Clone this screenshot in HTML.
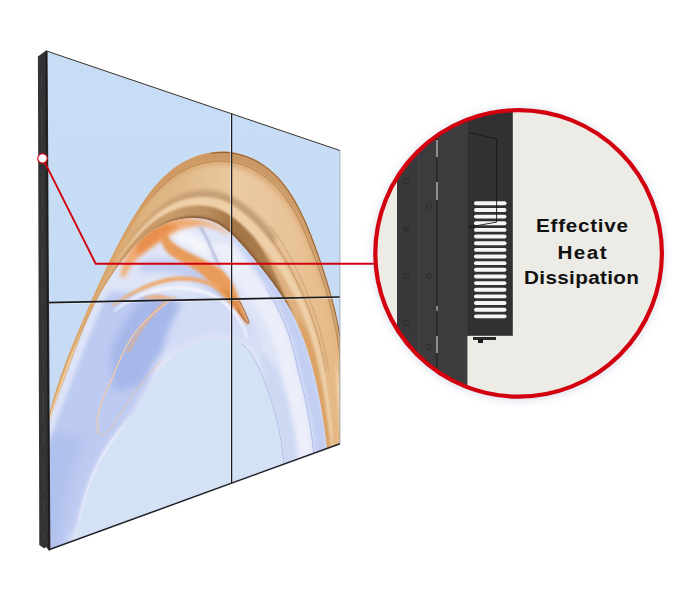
<!DOCTYPE html>
<html lang="en"><head><meta charset="utf-8"><title>Effective Heat Dissipation</title>
<style>html,body{margin:0;padding:0;background:#fff}body{width:700px;height:602px;position:relative;overflow:hidden}</style>
</head><body>
<svg width="700" height="602" viewBox="0 0 700 602" style="position:absolute;left:0;top:0">
<defs>
<clipPath id="scr"><polygon points="47,51.4 339.7,150.7 339.8,443.3 50,549"/></clipPath>
<clipPath id="circ"><circle cx="518.6" cy="253.4" r="143.3"/></clipPath>
<clipPath id="cOuter"><path d="M37.3 560.0 C37.2 556.4 36.8 545.7 36.7 538.5 C36.6 531.3 36.7 524.1 36.8 516.9 C36.9 509.8 37.2 502.6 37.6 495.4 C38.0 488.3 38.5 481.1 39.2 474.0 C39.9 466.9 40.8 459.8 41.8 452.7 C42.8 445.6 44.0 438.6 45.4 431.6 C46.8 424.6 48.4 417.6 50.1 410.7 C51.9 403.8 53.9 396.9 56.1 390.0 C58.2 383.2 60.6 376.4 63.0 369.7 C65.5 362.9 68.1 356.2 70.7 349.5 C73.4 342.8 76.2 336.2 79.0 329.6 C81.8 323.0 84.6 316.4 87.4 309.8 C90.3 303.3 93.1 296.8 96.0 290.3 C98.9 283.8 101.9 277.4 104.9 270.9 C107.9 264.5 111.0 258.1 114.3 251.8 C117.5 245.4 120.8 239.1 124.4 232.8 C127.9 226.5 131.5 220.2 135.4 214.0 C139.2 207.9 143.2 201.6 147.6 195.7 C151.9 189.9 156.5 184.1 161.5 179.1 C166.6 174.0 171.9 169.3 177.8 165.4 C183.7 161.6 190.3 158.3 196.9 156.0 C203.6 153.7 210.8 152.2 217.7 151.7 C224.7 151.3 231.9 151.9 238.6 153.4 C245.4 155.0 252.1 157.8 258.2 161.2 C264.3 164.6 270.0 169.1 275.1 174.0 C280.2 178.8 284.7 184.6 288.9 190.5 C293.0 196.4 296.6 202.9 300.0 209.4 C303.3 215.9 306.2 222.6 309.0 229.3 C311.8 236.0 314.3 242.8 316.7 249.6 C319.2 256.4 321.5 263.2 323.8 270.0 C326.0 276.8 328.1 283.6 330.0 290.4 C332.0 297.3 333.8 304.1 335.4 311.0 C337.0 318.0 338.4 324.9 339.7 331.9 C340.9 338.9 341.8 346.0 342.7 353.1 C343.5 360.2 344.2 367.4 344.7 374.6 C345.3 381.7 345.7 388.9 346.1 396.1 C346.4 403.3 346.7 410.6 347.0 417.8 C347.3 425.0 347.5 432.2 347.8 439.4 C348.1 446.6 348.4 454.1 348.8 460.8 C349.1 467.6 349.8 476.8 350.0 479.9 L380.0 620.0 L20.0 620.0 Z"/></clipPath>
<clipPath id="cGlass"><path d="M30.0 600.0 C30.1 596.8 30.5 587.2 30.7 580.8 C30.9 574.4 31.0 568.0 31.2 561.6 C31.4 555.2 31.6 548.7 31.9 542.3 C32.1 535.8 32.4 529.4 32.8 522.9 C33.1 516.5 33.5 510.1 34.1 503.7 C34.6 497.3 35.2 490.9 36.0 484.5 C36.8 478.1 37.7 471.8 38.8 465.5 C39.8 459.1 41.1 452.9 42.5 446.6 C43.9 440.4 45.6 434.2 47.4 428.1 C49.2 421.9 51.3 415.8 53.4 409.7 C55.5 403.7 57.9 397.6 60.1 391.6 C62.4 385.6 64.7 379.5 66.9 373.5 C69.1 367.5 71.3 361.4 73.5 355.4 C75.8 349.4 78.0 343.4 80.3 337.4 C82.7 331.4 85.0 325.5 87.6 319.7 C90.2 313.8 92.9 308.0 95.8 302.3 C98.8 296.7 101.9 291.0 105.2 285.6 C108.5 280.1 112.0 274.7 115.7 269.4 C119.5 264.2 123.4 259.0 127.7 254.2 C131.9 249.3 136.3 244.4 141.1 240.1 C145.9 235.8 150.9 231.8 156.4 228.5 C161.8 225.3 167.7 222.5 173.8 220.8 C179.9 219.1 186.8 218.1 193.1 218.1 C199.5 218.2 206.1 219.2 211.9 221.3 C217.7 223.4 222.9 226.9 227.8 230.7 C232.7 234.5 236.9 239.4 241.3 244.2 C245.6 248.9 249.8 254.1 253.9 259.1 C258.1 264.1 262.2 269.1 266.1 274.3 C270.1 279.4 273.9 284.6 277.6 289.9 C281.2 295.2 284.7 300.6 287.9 306.1 C291.1 311.6 294.0 317.2 296.7 323.0 C299.4 328.7 301.8 334.6 304.0 340.6 C306.2 346.5 308.1 352.6 309.9 358.8 C311.7 364.9 313.3 371.1 314.8 377.4 C316.3 383.6 317.6 389.9 318.9 396.2 C320.1 402.5 321.3 408.9 322.3 415.2 C323.4 421.6 324.3 427.9 325.1 434.3 C325.9 440.7 326.7 447.1 327.2 453.5 C327.8 459.8 328.2 466.6 328.5 472.7 C328.8 478.8 328.8 487.1 328.9 490.0 L380.0 620.0 L20.0 620.0 Z"/></clipPath>
<filter id="b05" x="-20%" y="-20%" width="140%" height="140%"><feGaussianBlur stdDeviation="0.5"/></filter>
<filter id="b1" x="-20%" y="-20%" width="140%" height="140%"><feGaussianBlur stdDeviation="1"/></filter>
<filter id="b15" x="-20%" y="-20%" width="140%" height="140%"><feGaussianBlur stdDeviation="1.4"/></filter>
<filter id="b2" x="-20%" y="-20%" width="140%" height="140%"><feGaussianBlur stdDeviation="2"/></filter>
<filter id="b3" x="-20%" y="-20%" width="140%" height="140%"><feGaussianBlur stdDeviation="3.5"/></filter>
<filter id="b6" x="-30%" y="-30%" width="160%" height="160%"><feGaussianBlur stdDeviation="6"/></filter>
<filter id="sh" x="-20%" y="-20%" width="140%" height="140%"><feGaussianBlur stdDeviation="5"/></filter>
<linearGradient id="bg" x1="0" y1="0" x2="0" y2="1"><stop offset="0" stop-color="#c6ddf5"/><stop offset="0.6" stop-color="#c7dcf4"/><stop offset="1" stop-color="#bccfef"/></linearGradient>
<linearGradient id="tan" x1="60" y1="0" x2="340" y2="0" gradientUnits="userSpaceOnUse"><stop offset="0" stop-color="#e2a663"/><stop offset="0.3" stop-color="#d9a66e"/><stop offset="0.7" stop-color="#dcae7e"/><stop offset="1" stop-color="#e4b580"/></linearGradient>
<linearGradient id="light" x1="110" y1="0" x2="340" y2="0" gradientUnits="userSpaceOnUse"><stop offset="0" stop-color="#dcae78"/><stop offset="0.3" stop-color="#e0b988"/><stop offset="0.55" stop-color="#ebcaa1"/><stop offset="0.8" stop-color="#e8c398"/><stop offset="1" stop-color="#e5b882"/></linearGradient>
<linearGradient id="rim" x1="60" y1="0" x2="340" y2="0" gradientUnits="userSpaceOnUse"><stop offset="0" stop-color="#d49a5c"/><stop offset="0.5" stop-color="#cf9a64"/><stop offset="0.62" stop-color="#c99662"/><stop offset="1" stop-color="#cfa06e"/></linearGradient>
<linearGradient id="brown" x1="60" y1="0" x2="340" y2="0" gradientUnits="userSpaceOnUse"><stop offset="0" stop-color="#c9955c"/><stop offset="0.4" stop-color="#c89b6a"/><stop offset="0.52" stop-color="#bd9060"/><stop offset="0.62" stop-color="#a37445"/><stop offset="0.8" stop-color="#ad7f50"/><stop offset="1" stop-color="#c58f58"/></linearGradient>
</defs>
<g clip-path="url(#scr)">
<rect x="40" y="40" width="310" height="520" fill="url(#bg)"/>
<path d="M37.3 560.0 C37.2 556.4 36.8 545.7 36.7 538.5 C36.6 531.3 36.7 524.1 36.8 516.9 C36.9 509.8 37.2 502.6 37.6 495.4 C38.0 488.3 38.5 481.1 39.2 474.0 C39.9 466.9 40.8 459.8 41.8 452.7 C42.8 445.6 44.0 438.6 45.4 431.6 C46.8 424.6 48.4 417.6 50.1 410.7 C51.9 403.8 53.9 396.9 56.1 390.0 C58.2 383.2 60.6 376.4 63.0 369.7 C65.5 362.9 68.1 356.2 70.7 349.5 C73.4 342.8 76.2 336.2 79.0 329.6 C81.8 323.0 84.6 316.4 87.4 309.8 C90.3 303.3 93.1 296.8 96.0 290.3 C98.9 283.8 101.9 277.4 104.9 270.9 C107.9 264.5 111.0 258.1 114.3 251.8 C117.5 245.4 120.8 239.1 124.4 232.8 C127.9 226.5 131.5 220.2 135.4 214.0 C139.2 207.9 143.2 201.6 147.6 195.7 C151.9 189.9 156.5 184.1 161.5 179.1 C166.6 174.0 171.9 169.3 177.8 165.4 C183.7 161.6 190.3 158.3 196.9 156.0 C203.6 153.7 210.8 152.2 217.7 151.7 C224.7 151.3 231.9 151.9 238.6 153.4 C245.4 155.0 252.1 157.8 258.2 161.2 C264.3 164.6 270.0 169.1 275.1 174.0 C280.2 178.8 284.7 184.6 288.9 190.5 C293.0 196.4 296.6 202.9 300.0 209.4 C303.3 215.9 306.2 222.6 309.0 229.3 C311.8 236.0 314.3 242.8 316.7 249.6 C319.2 256.4 321.5 263.2 323.8 270.0 C326.0 276.8 328.1 283.6 330.0 290.4 C332.0 297.3 333.8 304.1 335.4 311.0 C337.0 318.0 338.4 324.9 339.7 331.9 C340.9 338.9 341.8 346.0 342.7 353.1 C343.5 360.2 344.2 367.4 344.7 374.6 C345.3 381.7 345.7 388.9 346.1 396.1 C346.4 403.3 346.7 410.6 347.0 417.8 C347.3 425.0 347.5 432.2 347.8 439.4 C348.1 446.6 348.4 454.1 348.8 460.8 C349.1 467.6 349.8 476.8 350.0 479.9 L380.0 620.0 L20.0 620.0 Z" fill="url(#tan)"/>
<g clip-path="url(#cOuter)">
<path d="M57.7 387.9 C58.4 385.8 60.5 379.7 62.0 375.5 C63.5 371.4 65.0 367.1 66.7 362.8 C68.3 358.5 70.0 354.1 71.7 349.6 C73.5 345.1 75.4 340.5 77.3 335.8 C79.3 331.0 81.3 326.2 83.5 321.1 C85.7 316.0 88.0 310.8 90.4 305.3 C92.9 299.8 95.4 294.1 98.2 288.2 C101.0 282.3 104.0 276.1 107.3 269.7 C110.5 263.4 114.0 256.7 117.9 249.9 C121.8 243.0 125.9 235.9 130.5 228.7 C135.2 221.6 140.1 213.9 145.7 207.0 C151.3 200.1 157.4 192.9 163.9 187.3 C170.5 181.6 177.7 176.7 185.1 173.1 C192.4 169.6 200.3 167.2 208.0 166.1 C215.8 165.0 223.8 165.2 231.4 166.7 C239.0 168.2 246.6 171.2 253.6 175.2 C260.6 179.1 267.3 184.4 273.4 190.4 C279.4 196.3 284.8 203.6 289.6 211.0 C294.5 218.4 298.5 226.9 302.2 234.8 C305.9 242.7 309.0 250.8 312.0 258.4 C314.9 265.9 317.5 273.2 319.9 280.2 C322.3 287.2 324.4 293.8 326.3 300.4 C328.2 306.9 329.9 313.1 331.3 319.3 C332.8 325.4 334.0 331.3 335.1 337.0 C336.2 342.8 337.0 348.4 337.8 353.8 C338.5 359.2 339.1 364.4 339.7 369.4 C340.2 374.5 340.6 379.3 341.0 384.0 C341.4 388.8 341.8 393.3 342.1 397.7 C342.4 402.2 342.6 406.4 342.8 410.6 C343.1 414.8 343.3 418.9 343.5 422.9 C343.7 426.9 343.9 430.8 344.1 434.7 C344.3 438.5 344.4 442.3 344.6 446.1 C344.8 449.9 345.0 453.6 345.2 457.3 C345.4 461.0 345.6 464.7 345.9 468.5 C346.1 472.2 346.5 477.8 346.6 479.7 L337.2 479.1 C337.1 477.3 336.9 472.1 336.7 468.6 C336.5 465.1 336.2 461.6 336.0 458.1 C335.8 454.6 335.6 451.1 335.3 447.6 C335.0 444.1 334.8 440.6 334.5 437.0 C334.2 433.4 333.9 429.8 333.5 426.2 C333.2 422.5 332.8 418.8 332.4 415.0 C332.0 411.2 331.6 407.3 331.1 403.3 C330.6 399.3 330.1 395.2 329.6 391.0 C329.0 386.8 328.4 382.5 327.7 378.1 C327.0 373.6 326.2 369.0 325.3 364.3 C324.4 359.6 323.4 354.7 322.3 349.7 C321.1 344.6 319.8 339.5 318.3 334.2 C316.8 328.9 315.2 323.5 313.2 317.9 C311.3 312.3 309.2 306.6 306.9 300.8 C304.5 294.9 301.9 288.9 299.0 282.8 C296.1 276.7 293.0 270.3 289.5 264.0 C286.0 257.6 282.2 251.1 277.9 244.8 C273.7 238.6 269.0 232.3 263.8 226.6 C258.7 220.9 253.1 215.2 247.2 210.4 C241.2 205.7 234.8 200.9 228.2 198.0 C221.5 195.1 214.3 193.4 207.3 193.0 C200.3 192.6 193.1 193.6 186.2 195.6 C179.3 197.5 172.5 200.7 166.1 204.7 C159.8 208.7 153.8 214.0 148.3 219.4 C142.7 224.8 137.7 231.1 132.9 237.1 C128.2 243.1 124.0 249.3 119.9 255.4 C115.9 261.4 112.3 267.4 108.9 273.3 C105.5 279.2 102.4 284.9 99.5 290.6 C96.6 296.2 94.0 301.6 91.5 307.0 C89.1 312.3 86.8 317.5 84.6 322.5 C82.5 327.5 80.5 332.4 78.6 337.1 C76.7 341.9 74.9 346.5 73.2 351.0 C71.5 355.5 69.8 359.8 68.2 364.1 C66.6 368.4 65.1 372.5 63.6 376.6 C62.1 380.8 60.0 386.7 59.3 388.7 Z" fill="url(#light)" filter="url(#b2)"/>
<path d="M41.4 456.1 C41.7 453.8 42.7 446.8 43.5 442.1 C44.3 437.4 45.1 432.8 46.0 428.1 C47.0 423.5 48.0 418.8 49.1 414.1 C50.3 409.4 51.5 404.8 52.8 400.0 C54.2 395.3 55.6 390.6 57.2 385.7 C58.8 380.9 60.4 376.1 62.2 371.2 C64.0 366.2 65.9 361.2 67.9 356.1 C69.9 351.0 72.0 345.8 74.2 340.4 C76.5 334.9 78.8 329.4 81.3 323.6 C83.8 317.7 86.4 311.7 89.2 305.2 C92.0 298.8 94.9 292.0 98.2 284.8 C101.4 277.6 104.8 270.1 108.7 262.0 C112.6 254.0 116.7 245.5 121.5 236.6 C126.3 227.8 131.4 218.2 137.4 208.9 C143.4 199.6 150.0 189.2 157.5 181.0 C164.9 172.8 173.5 165.1 182.3 159.8 C191.1 154.5 200.9 151.0 210.3 149.2 C219.8 147.5 229.8 147.5 239.1 149.5 C248.3 151.5 257.7 155.5 266.0 161.3 C274.2 167.0 281.8 175.3 288.4 184.0 C294.9 192.7 300.3 203.5 305.1 213.5 C309.9 223.5 313.6 234.2 317.1 243.8 C320.7 253.5 323.7 262.7 326.5 271.4 C329.2 280.2 331.6 288.4 333.7 296.4 C335.8 304.4 337.6 312.0 339.1 319.3 C340.6 326.7 341.7 333.8 342.7 340.7 C343.7 347.5 344.4 354.1 345.0 360.5 C345.6 366.8 346.0 372.8 346.4 378.6 C346.8 384.5 347.0 390.0 347.3 395.4 C347.6 400.8 347.7 405.9 347.9 411.0 C348.1 416.0 348.2 420.9 348.4 425.6 C348.6 430.4 348.7 435.0 348.9 439.6 C349.1 444.2 349.2 448.7 349.4 453.2 C349.6 457.7 349.9 462.1 350.1 466.5 C350.4 471.0 350.9 477.8 351.1 480.0 L348.1 479.8 C348.0 477.6 347.5 471.0 347.2 466.6 C346.9 462.2 346.7 457.9 346.5 453.5 C346.3 449.1 346.1 444.7 345.9 440.2 C345.7 435.7 345.5 431.2 345.3 426.6 C345.1 421.9 344.9 417.2 344.6 412.3 C344.4 407.4 344.1 402.4 343.8 397.2 C343.5 391.9 343.2 386.6 342.7 380.9 C342.3 375.3 341.8 369.5 341.1 363.4 C340.4 357.3 339.7 350.9 338.7 344.3 C337.6 337.7 336.5 330.9 334.9 323.8 C333.4 316.7 331.7 309.4 329.6 301.8 C327.5 294.1 325.1 286.3 322.3 277.9 C319.6 269.6 316.6 260.9 313.0 251.8 C309.5 242.7 305.8 232.6 301.1 223.3 C296.4 213.9 291.0 203.9 284.7 195.8 C278.4 187.7 271.0 180.1 263.1 174.5 C255.2 169.0 246.3 164.8 237.5 162.5 C228.6 160.3 219.0 159.9 209.9 161.1 C200.8 162.4 191.4 165.6 182.9 170.2 C174.3 174.8 166.0 181.6 158.6 188.9 C151.2 196.2 144.6 205.6 138.6 214.0 C132.6 222.5 127.4 231.5 122.6 239.8 C117.7 248.2 113.5 256.3 109.6 264.0 C105.6 271.7 102.1 279.0 98.8 286.0 C95.5 293.0 92.6 299.7 89.8 306.0 C86.9 312.4 84.3 318.4 81.9 324.2 C79.4 330.1 77.1 335.6 74.9 341.0 C72.7 346.4 70.6 351.6 68.6 356.8 C66.6 361.9 64.8 366.8 63.0 371.7 C61.2 376.6 59.5 381.4 58.0 386.2 C56.4 391.0 54.9 395.6 53.5 400.3 C52.1 405.0 50.8 409.6 49.6 414.3 C48.4 418.9 47.3 423.5 46.3 428.2 C45.3 432.8 44.3 437.4 43.5 442.1 C42.7 446.8 41.6 453.8 41.2 456.1 Z" fill="url(#rim)" filter="url(#b1)"/>
<path d="M211.1 153.3 C212.6 153.2 217.2 152.6 220.3 152.5 C223.4 152.4 226.5 152.5 229.5 152.8 C232.6 153.2 235.6 153.7 238.6 154.4 C241.6 155.1 244.6 156.1 247.5 157.2 C250.4 158.3 253.3 159.6 256.1 161.1 C258.9 162.6 261.6 164.3 264.3 166.2 C266.9 168.0 269.5 170.1 272.0 172.3 C274.5 174.5 276.9 177.0 279.2 179.5 C281.5 182.1 283.7 184.8 285.9 187.7 C288.0 190.5 290.0 193.5 291.9 196.5 C293.8 199.6 295.6 202.7 297.3 205.9 C299.0 209.1 300.7 212.3 302.2 215.5 C303.8 218.8 305.2 222.0 306.6 225.3 C308.0 228.5 309.3 231.7 310.6 234.9 C311.9 238.1 313.1 241.3 314.2 244.4 C315.4 247.5 316.5 250.6 317.6 253.6 C318.6 256.6 319.7 259.5 320.7 262.4 C321.7 265.3 322.6 268.2 323.5 271.0 C324.5 273.8 325.3 276.5 326.2 279.2 C327.0 282.0 327.9 284.6 328.6 287.3 C329.4 289.9 330.2 292.5 330.9 295.1 C331.6 297.6 332.3 300.2 332.9 302.7 C333.5 305.2 334.2 307.6 334.7 310.1 C335.3 312.5 335.9 314.9 336.4 317.3 C336.9 319.7 337.4 322.0 337.9 324.4 C338.3 326.7 338.7 329.0 339.1 331.3 C339.5 333.5 339.9 335.8 340.3 338.0 C340.6 340.2 340.9 342.4 341.2 344.6 C341.5 346.8 341.8 348.9 342.1 351.0 C342.3 353.1 342.6 355.2 342.8 357.3 C343.0 359.3 343.2 361.4 343.4 363.4 C343.6 365.4 343.8 367.4 344.0 369.3 C344.1 371.3 344.3 373.2 344.4 375.1 C344.6 377.0 344.7 378.8 344.8 380.7 C345.0 382.5 345.1 385.3 345.2 386.2" fill="none" stroke="#8a5c34" stroke-width="1" filter="url(#b05)"/>
<path d="M151.8 196.9 C153.5 195.1 158.2 189.7 161.6 186.4 C165.0 183.2 168.5 180.2 172.2 177.6 C175.9 174.9 179.7 172.5 183.6 170.4 C187.4 168.4 191.4 166.7 195.4 165.3 C199.5 163.9 203.6 162.9 207.7 162.2 C211.8 161.5 215.9 161.1 220.1 161.1 C224.2 161.1 228.3 161.5 232.4 162.2 C236.4 162.9 240.4 164.1 244.3 165.5 C248.3 167.0 252.1 168.8 255.8 170.9 C259.5 173.0 263.2 175.4 266.6 178.1 C270.1 180.9 273.4 183.9 276.5 187.2 C279.7 190.5 282.6 194.1 285.4 197.9 C288.2 201.6 290.8 205.6 293.3 209.7 C295.7 213.8 297.9 218.1 300.0 222.4 C302.1 226.7 304.1 231.0 305.9 235.3 C307.7 239.5 309.4 243.8 311.1 248.0 C312.7 252.1 314.2 256.2 315.6 260.1 C317.1 264.1 318.5 268.0 319.8 271.8 C321.1 275.6 322.3 279.3 323.5 282.9 C324.7 286.6 325.8 290.1 326.8 293.6 C327.9 297.1 328.8 300.6 329.7 303.9 C330.7 307.3 331.5 310.6 332.3 313.9 C333.1 317.2 333.8 320.4 334.5 323.6 C335.2 326.7 335.8 329.8 336.4 332.9 C337.0 336.0 337.5 339.0 338.0 342.0 C338.4 345.0 338.9 347.9 339.3 350.8 C339.7 353.6 340.0 356.4 340.3 359.2 C340.7 362.0 341.0 364.7 341.2 367.4 C341.5 370.1 341.7 372.7 342.0 375.3 C342.2 377.8 342.4 380.4 342.6 382.9 C342.8 385.4 343.0 387.8 343.1 390.2 C343.3 392.6 343.4 395.0 343.6 397.3 C343.7 399.6 343.8 401.9 344.0 404.2 C344.1 406.4 344.2 408.7 344.3 410.9 C344.4 413.1 344.6 416.3 344.6 417.4" fill="none" stroke="#a87848" stroke-width="0.7" filter="url(#b05)"/>
<path d="M59.1 388.7 C59.5 387.6 60.5 384.6 61.3 382.5 C62.0 380.5 62.8 378.4 63.5 376.4 C64.3 374.3 65.1 372.2 65.8 370.0 C66.6 367.9 67.4 365.8 68.2 363.6 C69.0 361.4 69.8 359.2 70.7 357.0 C71.5 354.8 72.4 352.5 73.3 350.3 C74.1 348.0 75.0 345.7 75.9 343.3 C76.9 341.0 77.8 338.6 78.8 336.2 C79.8 333.8 80.8 331.3 81.8 328.8 C82.8 326.4 83.9 323.8 85.0 321.3 C86.1 318.7 87.2 316.1 88.4 313.5 C89.6 310.8 90.8 308.1 92.1 305.4 C93.3 302.7 94.6 299.9 96.0 297.1 C97.4 294.3 98.8 291.5 100.3 288.6 C101.8 285.7 103.3 282.8 104.9 279.9 C106.5 276.9 108.2 273.9 109.9 270.9 C111.7 267.9 113.5 264.8 115.4 261.7 C117.3 258.6 119.2 255.5 121.3 252.4 C123.4 249.3 125.5 246.1 127.7 243.0 C130.0 239.8 132.3 236.7 134.7 233.5 C137.2 230.4 139.7 227.3 142.4 224.3 C145.0 221.3 147.8 218.3 150.7 215.5 C153.5 212.7 156.5 209.9 159.6 207.5 C162.7 205.1 166.0 202.8 169.3 200.8 C172.6 198.8 176.0 197.1 179.4 195.7 C182.9 194.2 186.5 193.1 190.0 192.2 C193.6 191.4 197.2 190.8 200.8 190.5 C204.5 190.3 208.1 190.3 211.7 190.6 C215.3 191.0 218.9 191.7 222.4 192.8 C226.0 193.8 229.5 195.3 232.8 197.1 C236.2 198.8 239.5 200.9 242.7 203.2 C245.9 205.4 248.9 208.0 251.9 210.5 C254.9 213.1 257.8 215.9 260.5 218.7 C263.3 221.6 265.9 224.5 268.5 227.6 C271.0 230.6 274.5 235.4 275.7 237.0 L273.1 244.9 C272.0 243.4 268.6 238.8 266.1 235.9 C263.7 232.9 261.1 230.0 258.5 227.2 C255.8 224.4 253.1 221.7 250.2 219.0 C247.4 216.4 244.4 213.8 241.4 211.4 C238.3 209.0 235.1 206.8 231.9 204.9 C228.6 203.0 225.3 201.3 221.9 200.1 C218.4 198.9 214.9 198.0 211.4 197.5 C207.9 197.0 204.3 196.8 200.8 196.9 C197.3 197.0 193.7 197.5 190.2 198.1 C186.7 198.8 183.2 199.8 179.8 201.0 C176.4 202.2 173.1 203.7 169.8 205.5 C166.5 207.3 163.3 209.3 160.3 211.5 C157.2 213.8 154.2 216.3 151.3 218.8 C148.4 221.4 145.7 224.2 143.0 227.1 C140.4 229.9 137.8 232.9 135.4 235.8 C132.9 238.8 130.6 241.8 128.3 244.8 C126.1 247.8 123.9 250.9 121.8 253.9 C119.8 256.9 117.8 259.9 115.9 262.9 C113.9 265.9 112.1 268.9 110.4 271.8 C108.6 274.8 106.9 277.7 105.3 280.6 C103.7 283.5 102.1 286.4 100.6 289.2 C99.1 292.1 97.7 294.9 96.3 297.6 C94.9 300.4 93.6 303.2 92.4 305.9 C91.1 308.6 89.9 311.2 88.7 313.9 C87.5 316.5 86.4 319.1 85.3 321.6 C84.2 324.2 83.1 326.7 82.1 329.2 C81.1 331.7 80.1 334.1 79.1 336.5 C78.1 338.9 77.2 341.3 76.3 343.7 C75.4 346.0 74.5 348.3 73.6 350.6 C72.7 352.9 71.9 355.1 71.1 357.4 C70.2 359.6 69.4 361.8 68.6 363.9 C67.8 366.1 67.0 368.2 66.2 370.4 C65.5 372.5 64.7 374.6 63.9 376.6 C63.2 378.7 62.4 380.8 61.7 382.8 C61.0 384.8 59.9 387.9 59.5 388.9 Z" fill="#c39d74" filter="url(#b2)"/>
<path d="M267.6 234.3 C268.1 235.0 269.8 237.1 270.9 238.5 C272.0 239.9 273.0 241.4 274.1 242.8 C275.1 244.2 276.1 245.7 277.1 247.1 C278.1 248.6 279.1 250.0 280.0 251.5 C281.0 253.0 281.9 254.4 282.8 255.9 C283.7 257.4 284.6 258.9 285.4 260.3 C286.3 261.8 287.2 263.3 288.0 264.7 C288.8 266.2 289.6 267.7 290.4 269.1 C291.2 270.6 292.0 272.0 292.7 273.5 C293.5 275.0 294.2 276.4 294.9 277.8 C295.6 279.3 296.3 280.7 297.0 282.1 C297.7 283.6 298.4 285.0 299.0 286.4 C299.7 287.8 300.4 289.2 301.0 290.6 C301.6 292.0 302.2 293.3 302.8 294.7 C303.4 296.1 304.0 297.5 304.6 298.8 C305.2 300.2 305.7 301.5 306.3 302.9 C306.8 304.2 307.4 305.6 307.9 306.9 C308.4 308.2 308.9 309.6 309.4 310.9 C309.9 312.2 310.4 313.5 310.9 314.8 C311.3 316.1 311.8 317.4 312.2 318.7 C312.7 320.0 313.1 321.3 313.5 322.6 C314.0 323.8 314.4 325.1 314.8 326.4 C315.2 327.6 315.6 328.9 315.9 330.1 C316.3 331.4 316.7 332.6 317.0 333.9 C317.4 335.1 317.7 336.3 318.1 337.5 C318.4 338.7 318.7 340.0 319.1 341.2 C319.4 342.4 319.7 343.6 320.0 344.7 C320.3 345.9 320.6 347.1 320.9 348.3 C321.1 349.5 321.4 350.6 321.7 351.8 C322.0 352.9 322.2 354.1 322.5 355.2 C322.7 356.4 323.0 357.5 323.2 358.6 C323.4 359.8 323.7 360.9 323.9 362.0 C324.1 363.1 324.3 364.2 324.5 365.3 C324.7 366.4 324.9 367.5 325.1 368.6 C325.3 369.7 325.6 371.3 325.7 371.8" fill="none" stroke="#b98d5e" stroke-width="0.8" filter="url(#b05)"/>
<path d="M270.0 226.0 C270.5 226.8 272.3 228.9 273.4 230.4 C274.5 231.9 275.6 233.3 276.7 234.9 C277.7 236.4 278.8 237.9 279.8 239.4 C280.8 240.9 281.8 242.5 282.8 244.0 C283.7 245.6 284.7 247.1 285.6 248.7 C286.5 250.2 287.4 251.8 288.3 253.3 C289.2 254.9 290.0 256.5 290.9 258.0 C291.7 259.6 292.5 261.1 293.3 262.7 C294.1 264.2 294.9 265.8 295.6 267.3 C296.4 268.9 297.1 270.4 297.8 271.9 C298.6 273.4 299.3 274.9 300.0 276.4 C300.7 277.9 301.3 279.4 302.0 280.9 C302.7 282.4 303.3 283.9 303.9 285.3 C304.6 286.8 305.2 288.3 305.8 289.7 C306.4 291.1 307.0 292.6 307.6 294.0 C308.1 295.4 308.7 296.8 309.2 298.2 C309.8 299.6 310.3 301.0 310.8 302.4 C311.4 303.8 311.9 305.2 312.4 306.6 C312.9 308.0 313.4 309.3 313.8 310.7 C314.3 312.0 314.8 313.4 315.2 314.7 C315.6 316.1 316.1 317.4 316.5 318.7 C316.9 320.0 317.3 321.4 317.7 322.7 C318.1 324.0 318.5 325.3 318.9 326.6 C319.3 327.9 319.6 329.1 320.0 330.4 C320.4 331.7 320.7 333.0 321.0 334.2 C321.4 335.5 321.7 336.7 322.0 338.0 C322.3 339.2 322.6 340.5 322.9 341.7 C323.2 342.9 323.5 344.1 323.8 345.3 C324.1 346.6 324.3 347.8 324.6 349.0 C324.9 350.2 325.1 351.3 325.4 352.5 C325.6 353.7 325.8 354.9 326.1 356.0 C326.3 357.2 326.5 358.4 326.7 359.5 C326.9 360.7 327.1 361.8 327.4 362.9 C327.6 364.1 327.7 365.2 327.9 366.3 C328.1 367.4 328.4 369.1 328.5 369.6" fill="none" stroke="#c49868" stroke-width="0.7" filter="url(#b05)"/>
<path d="M296.5 315.5 C297.1 316.3 298.9 318.7 300.1 320.3 C301.3 321.9 302.4 323.5 303.5 325.1 C304.5 326.8 305.7 328.3 306.6 330.1 C307.5 331.8 308.3 333.7 309.0 335.6 C309.8 337.6 310.4 339.6 311.0 341.6 C311.6 343.5 312.2 345.4 312.7 347.4 C313.3 349.3 313.8 351.2 314.4 353.1 C314.9 354.9 315.4 356.8 315.8 358.6 C316.3 360.5 316.7 362.3 317.2 364.1 C317.6 365.9 318.0 367.7 318.4 369.4 C318.8 371.2 319.1 372.9 319.5 374.7 C319.9 376.4 320.2 378.1 320.5 379.8 C320.9 381.5 321.2 383.1 321.5 384.8 C321.8 386.4 322.1 388.0 322.4 389.7 C322.7 391.3 322.9 392.9 323.2 394.4 C323.5 396.0 323.7 397.6 324.0 399.1 C324.2 400.7 324.5 402.2 324.7 403.7 C325.0 405.2 325.2 406.7 325.4 408.2 C325.6 409.7 325.8 411.2 326.1 412.7 C326.3 414.1 326.5 415.6 326.7 417.0 C326.9 418.5 327.1 419.9 327.2 421.3 C327.4 422.8 327.6 424.2 327.8 425.6 C328.0 427.0 328.1 428.4 328.3 429.8 C328.4 431.2 328.6 432.6 328.8 434.0 C328.9 435.4 329.1 436.7 329.2 438.1 C329.3 439.5 329.5 440.9 329.6 442.2 C329.8 443.6 329.9 444.9 330.0 446.3 C330.1 447.7 330.2 449.0 330.4 450.4 C330.5 451.7 330.6 453.1 330.7 454.4 C330.8 455.8 330.9 457.1 331.0 458.5 C331.1 459.8 331.2 461.2 331.3 462.5 C331.3 463.8 331.4 465.2 331.3 466.6 C331.2 467.9 331.1 469.3 330.9 470.6 C330.8 471.9 330.7 473.3 330.5 474.6 C330.4 476.0 330.2 478.0 330.1 478.6 L330.1 478.6 C330.0 477.9 329.6 475.9 329.4 474.6 C329.1 473.2 328.8 471.9 328.6 470.6 C328.3 469.3 328.0 468.0 327.8 466.6 C327.6 465.3 327.4 464.0 327.3 462.7 C327.2 461.4 327.1 460.1 327.0 458.8 C326.9 457.5 326.8 456.2 326.7 454.9 C326.6 453.6 326.5 452.3 326.3 451.0 C326.2 449.7 326.1 448.4 326.0 447.0 C325.8 445.7 325.7 444.4 325.5 443.1 C325.4 441.8 325.2 440.5 325.1 439.1 C324.9 437.8 324.7 436.5 324.5 435.2 C324.4 433.8 324.2 432.5 324.0 431.2 C323.8 429.8 323.6 428.5 323.4 427.1 C323.2 425.8 323.0 424.4 322.8 423.0 C322.6 421.7 322.4 420.3 322.2 418.9 C321.9 417.5 321.7 416.2 321.5 414.8 C321.2 413.4 321.0 412.0 320.7 410.5 C320.5 409.1 320.2 407.7 319.9 406.3 C319.7 404.8 319.4 403.4 319.1 401.9 C318.8 400.5 318.5 399.0 318.2 397.5 C317.9 396.0 317.6 394.5 317.3 393.0 C317.0 391.5 316.7 389.9 316.3 388.4 C316.0 386.8 315.7 385.3 315.3 383.7 C314.9 382.1 314.6 380.5 314.2 378.9 C313.8 377.3 313.4 375.7 313.0 374.0 C312.6 372.4 312.1 370.7 311.7 369.0 C311.2 367.4 310.8 365.7 310.3 363.9 C309.8 362.2 309.3 360.5 308.8 358.7 C308.3 357.0 307.7 355.2 307.1 353.5 C306.6 351.7 306.0 349.9 305.4 348.1 C304.7 346.2 304.0 344.5 303.4 342.6 C302.8 340.7 302.2 338.7 301.6 336.6 C301.1 334.5 300.7 332.1 300.1 329.8 C299.6 327.5 299.0 325.1 298.4 322.8 C297.8 320.4 296.8 316.7 296.5 315.5 Z" fill="#dca266" filter="url(#b1)"/>
<path d="M334.7 356.9 C334.9 357.6 335.3 359.8 335.6 361.2 C335.9 362.6 336.2 363.9 336.4 365.3 C336.7 366.7 337.0 368.1 337.2 369.4 C337.4 370.8 337.7 372.1 337.9 373.4 C338.1 374.8 338.4 376.1 338.6 377.4 C338.8 378.7 339.0 380.0 339.2 381.3 C339.4 382.6 339.6 383.9 339.8 385.2 C340.0 386.5 340.2 387.7 340.4 389.0 C340.5 390.3 340.6 391.6 340.7 392.9 C340.8 394.1 340.9 395.4 340.9 396.7 C341.0 397.9 341.1 399.2 341.2 400.4 C341.3 401.6 341.4 402.9 341.5 404.1 C341.5 405.3 341.6 406.5 341.7 407.7 C341.8 408.9 341.8 410.1 341.9 411.3 C342.0 412.4 342.1 413.6 342.1 414.8 C342.2 415.9 342.3 417.1 342.3 418.3 C342.4 419.4 342.4 420.5 342.5 421.7 C342.6 422.8 342.6 423.9 342.7 425.1 C342.8 426.2 342.8 427.3 342.9 428.4 C342.9 429.5 343.0 430.6 343.0 431.7 C343.1 432.8 343.2 433.9 343.2 435.0 C343.3 436.1 343.3 437.2 343.4 438.3 C343.4 439.4 343.5 440.4 343.5 441.5 C343.6 442.6 343.7 443.7 343.7 444.7 C343.8 445.8 343.8 446.9 343.9 447.9 C343.9 449.0 344.0 450.1 344.0 451.1 C344.1 452.2 344.2 453.2 344.2 454.3 C344.2 455.3 344.2 456.4 344.2 457.5 C344.2 458.5 344.2 459.6 344.2 460.6 C344.2 461.7 344.2 462.7 344.2 463.8 C344.2 464.8 344.2 465.9 344.2 466.9 C344.2 468.0 344.2 469.0 344.2 470.1 C344.2 471.1 344.2 472.2 344.2 473.2 C344.2 474.3 344.2 475.3 344.2 476.4 C344.3 477.5 344.3 479.0 344.3 479.6 L344.3 479.6 C344.2 479.0 344.0 477.4 343.9 476.4 C343.7 475.3 343.6 474.3 343.5 473.2 C343.4 472.2 343.2 471.1 343.1 470.1 C343.0 469.1 342.9 468.0 342.7 467.0 C342.6 465.9 342.5 464.9 342.4 463.9 C342.2 462.8 342.1 461.8 342.0 460.8 C341.9 459.7 341.8 458.7 341.6 457.7 C341.5 456.7 341.4 455.6 341.3 454.6 C341.2 453.6 341.2 452.5 341.1 451.5 C341.0 450.5 341.0 449.4 340.9 448.4 C340.9 447.3 340.8 446.3 340.7 445.3 C340.7 444.2 340.6 443.2 340.5 442.1 C340.5 441.1 340.4 440.0 340.3 439.0 C340.3 437.9 340.2 436.8 340.2 435.8 C340.1 434.7 340.0 433.6 340.0 432.6 C339.9 431.5 339.8 430.4 339.7 429.3 C339.7 428.2 339.6 427.2 339.5 426.1 C339.5 425.0 339.4 423.9 339.3 422.8 C339.2 421.7 339.2 420.5 339.1 419.4 C339.0 418.3 338.9 417.2 338.8 416.1 C338.8 414.9 338.7 413.8 338.6 412.6 C338.5 411.5 338.4 410.3 338.3 409.2 C338.2 408.0 338.1 406.8 338.0 405.7 C338.0 404.5 337.9 403.3 337.8 402.1 C337.7 400.9 337.5 399.7 337.4 398.5 C337.3 397.3 337.2 396.0 337.1 394.8 C337.0 393.6 336.8 392.4 336.8 391.1 C336.7 389.8 336.7 388.5 336.6 387.1 C336.6 385.8 336.5 384.5 336.4 383.1 C336.4 381.7 336.3 380.4 336.2 379.0 C336.2 377.6 336.1 376.2 336.0 374.8 C335.9 373.4 335.9 371.9 335.8 370.5 C335.7 369.0 335.6 367.5 335.5 366.1 C335.4 364.6 335.2 363.1 335.1 361.6 C335.0 360.0 334.8 357.7 334.7 356.9 Z" fill="#f1d3ab" filter="url(#b1)"/>
<path d="M42.3 447.8 C42.4 447.3 42.8 445.6 43.0 444.4 C43.3 443.3 43.5 442.1 43.8 441.0 C44.0 439.9 44.3 438.7 44.5 437.6 C44.8 436.5 45.1 435.3 45.3 434.2 C45.6 433.1 45.9 431.9 46.1 430.8 C46.4 429.7 46.7 428.6 47.0 427.4 C47.2 426.3 47.5 425.2 47.8 424.1 C48.1 422.9 48.4 421.8 48.7 420.7 C49.0 419.5 49.3 418.4 49.6 417.3 C49.9 416.1 50.2 415.0 50.5 413.9 C50.8 412.8 51.2 411.6 51.5 410.5 C51.8 409.4 52.2 408.3 52.5 407.1 C52.9 406.0 53.2 404.9 53.6 403.8 C53.9 402.6 54.3 401.5 54.7 400.4 C55.0 399.2 55.4 398.1 55.8 397.0 C56.1 395.8 56.5 394.7 56.9 393.6 C57.3 392.4 57.7 391.3 58.1 390.1 C58.5 389.0 58.9 387.8 59.3 386.7 C59.7 385.5 60.1 384.4 60.5 383.2 C60.9 382.1 61.3 380.9 61.7 379.7 C62.2 378.6 62.6 377.4 63.0 376.2 C63.4 375.0 63.9 373.8 64.3 372.6 C64.7 371.5 65.2 370.3 65.6 369.0 C66.1 367.8 66.5 366.6 67.0 365.4 C67.4 364.2 67.9 363.0 68.3 361.7 C68.8 360.5 69.3 359.3 69.8 358.1 C70.3 356.8 70.8 355.6 71.3 354.4 C71.8 353.1 72.4 351.9 72.9 350.6 C73.4 349.4 74.0 348.1 74.5 346.8 C75.0 345.6 75.6 344.3 76.1 343.0 C76.7 341.7 77.2 340.4 77.8 339.1 C78.4 337.8 78.9 336.4 79.5 335.1 C80.1 333.8 80.7 332.4 81.3 331.1 C81.9 329.7 82.5 328.3 83.1 326.9 C83.7 325.6 84.6 323.5 85.0 322.8 L85.0 322.8 C84.7 323.5 83.8 325.7 83.2 327.1 C82.7 328.6 82.1 330.0 81.6 331.4 C81.0 332.8 80.5 334.2 80.0 335.6 C79.5 337.0 79.0 338.4 78.5 339.8 C78.0 341.2 77.5 342.5 77.0 343.9 C76.5 345.3 76.1 346.6 75.6 347.9 C75.1 349.3 74.7 350.6 74.2 351.9 C73.8 353.2 73.3 354.5 72.9 355.8 C72.5 357.1 72.1 358.4 71.6 359.6 C71.2 360.9 70.8 362.2 70.3 363.4 C69.9 364.6 69.4 365.8 69.0 367.0 C68.6 368.2 68.1 369.4 67.7 370.6 C67.3 371.8 66.8 373.0 66.4 374.1 C66.0 375.3 65.5 376.5 65.1 377.6 C64.7 378.8 64.2 379.9 63.8 381.1 C63.4 382.2 63.0 383.4 62.5 384.5 C62.1 385.6 61.7 386.7 61.3 387.9 C60.9 389.0 60.4 390.1 60.0 391.2 C59.6 392.3 59.2 393.4 58.8 394.5 C58.4 395.7 58.0 396.8 57.5 397.9 C57.1 399.0 56.7 400.1 56.3 401.2 C55.9 402.3 55.5 403.4 55.1 404.5 C54.7 405.6 54.4 406.7 54.0 407.8 C53.6 408.9 53.2 409.9 52.8 411.0 C52.4 412.1 52.1 413.2 51.7 414.3 C51.3 415.4 50.9 416.5 50.6 417.6 C50.2 418.7 49.8 419.8 49.4 420.9 C49.1 422.0 48.7 423.1 48.4 424.2 C48.0 425.3 47.7 426.4 47.4 427.5 C47.0 428.7 46.7 429.8 46.4 430.9 C46.1 432.0 45.8 433.1 45.5 434.2 C45.2 435.4 44.9 436.5 44.6 437.6 C44.3 438.7 44.1 439.9 43.8 441.0 C43.5 442.1 43.3 443.3 43.0 444.4 C42.8 445.6 42.4 447.3 42.3 447.8 Z" fill="#f6dcbc" filter="url(#b05)"/>
<path d="M50.7 415.7 C51.4 413.6 53.3 407.4 54.7 403.2 C56.1 399.1 57.6 394.9 59.1 390.7 C60.5 386.5 62.1 382.3 63.6 377.9 C65.2 373.5 66.8 369.1 68.5 364.6 C70.1 360.0 71.8 355.3 73.7 350.5 C75.5 345.7 77.4 340.8 79.4 335.7 C81.5 330.6 83.6 325.4 86.0 320.0 C88.3 314.6 90.8 309.0 93.6 303.3 C96.3 297.6 99.2 291.7 102.5 285.7 C105.8 279.7 109.2 273.5 113.1 267.3 C117.0 261.1 121.1 254.6 125.7 248.4 C130.3 242.1 135.3 235.5 140.7 229.5 C146.2 223.6 152.2 217.5 158.5 212.8 C164.9 208.1 171.9 204.0 178.9 201.3 C186.0 198.7 193.6 197.1 200.9 196.9 C208.3 196.8 215.9 197.9 223.0 200.5 C230.0 203.2 237.0 208.0 243.3 212.9 C249.6 217.8 255.5 223.9 260.9 229.9 C266.3 235.8 271.3 242.3 275.8 248.7 C280.3 255.2 284.4 261.9 288.1 268.4 C291.8 274.9 295.0 281.4 298.0 287.7 C301.1 294.0 303.7 300.2 306.2 306.2 C308.6 312.2 310.8 318.1 312.7 323.9 C314.6 329.6 316.3 335.2 317.8 340.6 C319.3 346.1 320.5 351.4 321.7 356.5 C322.8 361.6 323.8 366.6 324.7 371.4 C325.6 376.3 326.3 380.9 327.0 385.5 C327.7 390.0 328.3 394.4 328.9 398.6 C329.5 402.9 330.0 407.1 330.5 411.1 C330.9 415.2 331.3 419.2 331.7 423.1 C332.0 427.0 332.3 430.9 332.5 434.7 C332.8 438.5 333.0 442.2 333.2 445.9 C333.4 449.6 333.6 453.3 333.8 457.0 C333.9 460.6 334.1 464.3 334.2 467.9 C334.3 471.6 334.4 477.1 334.5 478.9 L334.5 478.9 C334.3 477.1 333.9 471.6 333.6 467.9 C333.3 464.3 333.0 460.7 332.7 457.1 C332.3 453.5 331.9 449.9 331.5 446.2 C331.1 442.6 330.7 439.0 330.2 435.3 C329.7 431.6 329.2 427.9 328.7 424.2 C328.1 420.4 327.6 416.6 327.1 412.7 C326.5 408.7 326.0 404.7 325.3 400.6 C324.7 396.5 324.0 392.3 323.3 387.9 C322.5 383.6 321.7 379.1 320.8 374.5 C319.8 369.9 318.8 365.2 317.6 360.3 C316.5 355.4 315.2 350.3 313.7 345.2 C312.1 340.0 310.5 334.7 308.5 329.2 C306.6 323.8 304.5 318.2 302.0 312.6 C299.6 307.0 296.9 301.2 293.9 295.4 C290.9 289.6 287.6 283.6 284.0 277.7 C280.4 271.7 276.5 265.6 272.1 259.6 C267.8 253.6 263.0 247.6 257.9 241.7 C252.8 235.9 247.3 229.7 241.3 224.5 C235.4 219.4 228.8 214.0 222.1 210.9 C215.4 207.8 208.0 206.2 200.9 205.9 C193.8 205.5 186.4 206.7 179.5 208.7 C172.6 210.8 165.7 214.2 159.4 218.3 C153.1 222.4 147.1 227.8 141.7 233.2 C136.2 238.6 131.2 244.8 126.5 250.7 C121.9 256.7 117.7 262.8 113.8 268.8 C109.8 274.8 106.3 280.8 103.0 286.7 C99.7 292.5 96.7 298.3 94.0 304.0 C91.2 309.6 88.7 315.1 86.4 320.5 C84.0 325.9 81.9 331.1 79.9 336.2 C77.8 341.3 76.0 346.2 74.1 351.0 C72.3 355.8 70.6 360.4 68.9 364.9 C67.2 369.4 65.6 373.8 64.0 378.1 C62.4 382.4 60.8 386.6 59.3 390.8 C57.7 395.0 56.2 399.1 54.8 403.3 C53.4 407.4 51.4 413.6 50.7 415.7 Z" fill="#edcfa8" filter="url(#b1)"/>
<path d="M50.8 415.7 C51.3 414.4 52.5 410.5 53.4 407.9 C54.3 405.4 55.2 402.8 56.1 400.2 C57.0 397.6 58.0 395.0 58.9 392.3 C59.9 389.7 60.8 387.1 61.8 384.4 C62.8 381.7 63.8 379.1 64.8 376.3 C65.8 373.6 66.8 370.8 67.8 368.0 C68.9 365.2 69.9 362.4 71.0 359.4 C72.1 356.5 73.2 353.6 74.3 350.6 C75.5 347.5 76.6 344.5 77.8 341.3 C79.1 338.2 80.3 335.0 81.6 331.8 C83.0 328.5 84.3 325.2 85.8 321.8 C87.2 318.5 88.8 315.1 90.4 311.6 C92.0 308.1 93.6 304.6 95.4 301.0 C97.2 297.4 99.1 293.8 101.1 290.1 C103.1 286.4 105.2 282.7 107.4 279.0 C109.7 275.2 112.0 271.5 114.5 267.7 C117.0 263.9 119.6 260.1 122.3 256.3 C125.1 252.5 128.0 248.7 131.1 245.0 C134.2 241.3 137.4 237.6 140.8 234.1 C144.2 230.6 147.8 227.2 151.6 224.1 C155.3 221.1 159.3 218.2 163.4 215.8 C167.5 213.4 171.7 211.4 176.1 209.9 C180.4 208.3 184.9 207.2 189.4 206.5 C193.8 205.9 198.4 205.6 202.9 206.0 C207.4 206.3 211.9 207.1 216.3 208.5 C220.7 210.0 225.0 212.3 229.1 214.9 C233.2 217.5 237.2 220.8 240.9 224.2 C244.7 227.5 248.3 231.0 251.7 234.9 C255.0 238.8 258.2 242.9 261.1 247.4 C263.9 251.8 266.4 257.0 268.9 261.6 C271.3 266.3 273.5 270.9 275.6 275.4 C277.7 279.9 279.6 284.3 281.5 288.5 C283.3 292.8 285.0 296.9 286.6 301.0 C288.1 305.0 289.6 308.9 291.0 312.8 C292.3 316.7 294.1 322.3 294.7 324.2 L294.7 324.2 C293.9 322.6 291.6 317.9 289.8 314.8 C288.1 311.6 286.2 308.5 284.3 305.4 C282.3 302.3 280.3 299.2 278.1 296.0 C275.9 292.9 273.6 289.8 271.3 286.6 C268.9 283.4 266.4 280.2 263.8 276.9 C261.2 273.6 258.5 270.3 255.7 266.8 C252.9 263.4 250.0 259.9 247.0 256.2 C244.0 252.5 240.8 248.5 237.5 244.9 C234.2 241.2 230.6 237.3 226.9 234.2 C223.2 231.1 219.2 228.3 215.2 226.3 C211.2 224.3 206.9 223.1 202.7 222.2 C198.5 221.3 194.2 221.1 189.9 221.1 C185.7 221.2 181.4 221.6 177.2 222.5 C173.1 223.4 168.9 224.6 164.9 226.3 C160.9 228.0 157.0 230.1 153.2 232.4 C149.5 234.8 145.9 237.6 142.4 240.5 C139.0 243.4 135.7 246.7 132.6 249.9 C129.5 253.2 126.5 256.6 123.7 260.0 C120.9 263.5 118.2 267.0 115.7 270.5 C113.1 274.0 110.7 277.5 108.4 281.0 C106.1 284.6 104.0 288.1 102.0 291.7 C99.9 295.2 98.0 298.7 96.2 302.2 C94.4 305.7 92.7 309.2 91.1 312.6 C89.4 316.0 87.9 319.4 86.5 322.8 C85.1 326.1 83.7 329.4 82.4 332.7 C81.1 335.9 79.9 339.1 78.7 342.2 C77.5 345.3 76.3 348.4 75.2 351.4 C74.1 354.4 73.0 357.4 72.0 360.3 C70.9 363.2 69.9 366.0 68.9 368.8 C67.9 371.6 66.8 374.3 65.8 377.1 C64.8 379.8 63.8 382.4 62.8 385.0 C61.8 387.7 60.8 390.3 59.9 392.9 C58.9 395.5 57.9 398.0 57.0 400.6 C56.0 403.1 55.0 405.7 54.1 408.3 C53.2 410.8 51.9 414.6 51.4 415.9 Z" fill="url(#brown)" filter="url(#b1)"/>
<path d="M142.4 238.9 C143.2 238.2 145.5 236.1 147.1 234.8 C148.7 233.5 150.3 232.2 151.9 231.0 C153.6 229.8 155.3 228.6 157.0 227.5 C158.7 226.5 160.5 225.4 162.2 224.5 C164.0 223.5 165.8 222.6 167.6 221.8 C169.5 221.0 171.3 220.3 173.2 219.6 C175.0 218.9 176.9 218.3 178.8 217.9 C180.7 217.4 182.6 217.0 184.6 216.7 C186.5 216.4 188.4 216.2 190.4 216.1 C192.3 216.0 194.3 216.0 196.2 216.1 C198.1 216.2 200.1 216.3 202.0 216.6 C204.0 216.9 205.9 217.2 207.8 217.7 C209.7 218.2 211.6 218.7 213.5 219.4 C215.4 220.2 217.3 221.0 219.1 222.0 C220.9 223.0 222.7 224.1 224.5 225.3 C226.3 226.5 228.0 227.8 229.7 229.3 C231.4 230.7 233.0 232.2 234.6 233.8 C236.3 235.3 237.8 236.9 239.4 238.6 C240.9 240.2 242.4 241.9 243.9 243.6 C245.4 245.2 246.8 246.9 248.2 248.5 C249.6 250.2 251.0 251.8 252.4 253.4 C253.8 255.0 255.1 256.6 256.4 258.2 C257.7 259.8 259.0 261.3 260.3 262.9 C261.5 264.5 262.8 266.0 264.0 267.6 C265.2 269.1 266.4 270.7 267.6 272.2 C268.7 273.7 269.9 275.3 271.0 276.8 C272.1 278.3 273.2 279.8 274.3 281.3 C275.3 282.9 276.3 284.4 277.3 286.0 C278.3 287.6 279.3 289.2 280.2 290.8 C281.2 292.4 282.1 293.9 283.0 295.5 C283.9 297.1 284.7 298.6 285.6 300.2 C286.4 301.7 287.3 303.3 288.1 304.8 C288.9 306.3 289.6 307.9 290.4 309.4 C291.2 310.9 291.9 312.4 292.6 313.9 C293.3 315.5 294.3 317.7 294.7 318.5 L294.7 318.5 C294.3 317.8 293.1 315.7 292.4 314.4 C291.6 313.0 290.7 311.6 289.9 310.3 C289.1 308.9 288.2 307.6 287.3 306.2 C286.4 304.8 285.5 303.5 284.6 302.1 C283.6 300.8 282.7 299.5 281.7 298.1 C280.7 296.8 279.8 295.4 278.7 294.1 C277.7 292.8 276.7 291.4 275.6 290.1 C274.6 288.7 273.5 287.4 272.4 286.0 C271.4 284.6 270.3 283.1 269.2 281.6 C268.1 280.2 267.0 278.7 265.8 277.2 C264.7 275.8 263.5 274.3 262.3 272.8 C261.2 271.3 259.9 269.8 258.7 268.3 C257.5 266.8 256.2 265.2 255.0 263.7 C253.7 262.1 252.4 260.5 251.1 258.9 C249.7 257.3 248.4 255.7 247.0 254.1 C245.7 252.4 244.3 250.7 242.8 249.1 C241.4 247.4 240.0 245.7 238.5 244.0 C237.0 242.3 235.4 240.6 233.9 239.0 C232.3 237.4 230.7 235.8 229.1 234.4 C227.4 232.9 225.7 231.5 224.0 230.2 C222.3 228.9 220.5 227.8 218.7 226.7 C216.9 225.7 215.1 224.8 213.3 224.0 C211.4 223.2 209.5 222.6 207.7 222.1 C205.8 221.5 203.9 221.1 202.0 220.8 C200.1 220.5 198.2 220.2 196.3 220.1 C194.3 220.0 192.4 219.9 190.5 219.9 C188.6 220.0 186.7 220.1 184.8 220.3 C182.9 220.5 181.0 220.7 179.1 221.0 C177.2 221.3 175.3 221.6 173.4 222.1 C171.6 222.5 169.7 223.1 167.9 223.7 C166.1 224.3 164.2 225.0 162.5 225.8 C160.7 226.6 158.9 227.5 157.2 228.5 C155.4 229.4 153.7 230.5 152.0 231.6 C150.4 232.7 148.7 233.8 147.1 235.1 C145.5 236.3 143.2 238.2 142.4 238.9 Z" fill="#8a5f38" filter="url(#b1)"/>
</g>
<path d="M30.0 600.0 C30.1 596.8 30.5 587.2 30.7 580.8 C30.9 574.4 31.0 568.0 31.2 561.6 C31.4 555.2 31.6 548.7 31.9 542.3 C32.1 535.8 32.4 529.4 32.8 522.9 C33.1 516.5 33.5 510.1 34.1 503.7 C34.6 497.3 35.2 490.9 36.0 484.5 C36.8 478.1 37.7 471.8 38.8 465.5 C39.8 459.1 41.1 452.9 42.5 446.6 C43.9 440.4 45.6 434.2 47.4 428.1 C49.2 421.9 51.3 415.8 53.4 409.7 C55.5 403.7 57.9 397.6 60.1 391.6 C62.4 385.6 64.7 379.5 66.9 373.5 C69.1 367.5 71.3 361.4 73.5 355.4 C75.8 349.4 78.0 343.4 80.3 337.4 C82.7 331.4 85.0 325.5 87.6 319.7 C90.2 313.8 92.9 308.0 95.8 302.3 C98.8 296.7 101.9 291.0 105.2 285.6 C108.5 280.1 112.0 274.7 115.7 269.4 C119.5 264.2 123.4 259.0 127.7 254.2 C131.9 249.3 136.3 244.4 141.1 240.1 C145.9 235.8 150.9 231.8 156.4 228.5 C161.8 225.3 167.7 222.5 173.8 220.8 C179.9 219.1 186.8 218.1 193.1 218.1 C199.5 218.2 206.1 219.2 211.9 221.3 C217.7 223.4 222.9 226.9 227.8 230.7 C232.7 234.5 236.9 239.4 241.3 244.2 C245.6 248.9 249.8 254.1 253.9 259.1 C258.1 264.1 262.2 269.1 266.1 274.3 C270.1 279.4 273.9 284.6 277.6 289.9 C281.2 295.2 284.7 300.6 287.9 306.1 C291.1 311.6 294.0 317.2 296.7 323.0 C299.4 328.7 301.8 334.6 304.0 340.6 C306.2 346.5 308.1 352.6 309.9 358.8 C311.7 364.9 313.3 371.1 314.8 377.4 C316.3 383.6 317.6 389.9 318.9 396.2 C320.1 402.5 321.3 408.9 322.3 415.2 C323.4 421.6 324.3 427.9 325.1 434.3 C325.9 440.7 326.7 447.1 327.2 453.5 C327.8 459.8 328.2 466.6 328.5 472.7 C328.8 478.8 328.8 487.1 328.9 490.0 L380.0 620.0 L20.0 620.0 Z" fill="#dfe5f7"/>
<g clip-path="url(#cGlass)">
<path d="M51.7 583.4 C51.1 581.6 49.3 576.4 48.1 573.1 C46.8 569.7 45.5 566.5 44.2 563.3 C42.9 560.1 41.5 557.0 40.1 553.9 C38.7 550.8 36.6 547.9 35.7 544.6 C34.8 541.4 34.7 537.7 34.6 534.1 C34.5 530.6 35.0 526.9 35.2 523.4 C35.4 519.9 35.7 516.5 35.9 513.1 C36.2 509.7 36.5 506.4 36.8 503.1 C37.1 499.9 37.4 496.7 37.7 493.5 C38.1 490.3 38.5 487.2 38.9 484.1 C39.3 481.0 39.7 477.9 40.2 474.9 C40.7 471.9 41.1 468.9 41.7 465.9 C42.2 462.9 42.8 460.0 43.4 457.1 C44.0 454.1 44.6 451.2 45.3 448.4 C46.0 445.5 46.7 442.6 47.4 439.8 C48.2 436.9 49.0 434.1 49.8 431.3 C50.7 428.5 51.6 425.7 52.5 423.0 C53.4 420.2 54.4 417.4 55.3 414.7 C56.3 411.9 57.3 409.2 58.3 406.4 C59.4 403.7 60.4 400.9 61.5 398.2 C62.5 395.4 63.6 392.6 64.7 389.8 C65.8 387.0 66.9 384.2 68.0 381.3 C69.0 378.4 70.1 375.5 71.3 372.6 C72.4 369.6 73.5 366.5 74.6 363.5 C75.8 360.4 77.0 357.2 78.2 354.0 C79.4 350.8 80.6 347.5 81.9 344.1 C83.3 340.7 84.6 337.3 86.0 333.8 C87.5 330.3 89.0 326.7 90.6 323.1 C92.2 319.5 93.9 315.8 95.7 312.1 C97.6 308.4 99.2 304.1 101.5 300.8 C103.9 297.6 106.4 294.1 109.8 292.6 C113.2 291.2 117.8 292.1 121.8 292.1 C125.9 292.2 129.9 292.5 133.9 293.0 C137.9 293.6 141.9 294.3 145.8 295.4 C149.8 296.5 155.6 298.9 157.5 299.6 L157.5 299.6 C156.8 302.9 154.4 313.1 153.3 319.6 C152.2 326.1 151.5 332.5 151.0 338.7 C150.5 344.9 150.3 351.0 150.2 356.8 C150.2 362.5 151.1 369.2 150.9 373.4 C150.7 377.7 149.8 379.9 148.9 382.3 C148.1 384.6 146.7 385.9 145.7 387.7 C144.6 389.5 143.6 391.2 142.6 392.9 C141.6 394.7 140.7 396.3 139.8 398.0 C138.8 399.6 137.9 401.3 137.0 402.9 C136.1 404.4 135.3 406.0 134.4 407.5 C133.5 409.0 132.7 410.5 131.8 412.0 C130.9 413.5 130.0 414.9 129.1 416.3 C128.2 417.8 127.3 419.2 126.3 420.5 C125.4 421.9 124.4 423.3 123.5 424.7 C122.5 426.0 121.5 427.4 120.5 428.8 C119.4 430.1 118.4 431.5 117.4 432.9 C116.3 434.3 115.3 435.8 114.2 437.2 C113.2 438.7 112.1 440.1 111.1 441.7 C110.0 443.2 109.0 444.7 108.0 446.3 C107.0 447.9 106.0 449.5 105.0 451.2 C104.0 452.8 103.0 454.5 102.0 456.3 C101.1 458.0 100.1 459.8 99.2 461.7 C98.2 463.5 97.3 465.4 96.4 467.3 C95.5 469.2 94.6 471.2 93.7 473.3 C92.8 475.3 91.9 477.4 91.1 479.5 C90.2 481.7 89.4 483.9 88.6 486.1 C87.7 488.4 86.9 490.7 86.2 493.1 C85.4 495.5 84.6 498.0 83.8 500.5 C83.1 503.0 82.4 505.6 81.7 508.3 C80.9 511.0 80.5 513.7 79.6 516.7 C78.6 519.7 77.7 522.7 76.0 526.3 C74.3 530.0 71.5 534.2 69.4 538.5 C67.2 542.8 65.2 547.2 63.2 551.9 C61.1 556.7 59.2 561.6 57.3 566.8 C55.4 572.0 52.6 580.6 51.7 583.4 Z" fill="#bdcaf1" filter="url(#b3)"/>
<path d="M30.0 600.0 C30.0 598.8 30.2 595.2 30.3 592.9 C30.3 590.5 30.4 588.3 30.5 586.1 C30.6 583.8 30.6 581.7 30.7 579.5 C30.8 577.4 30.8 575.3 30.9 573.2 C31.0 571.2 31.0 569.2 31.1 567.2 C31.1 565.2 31.2 563.2 31.2 561.3 C31.3 559.4 31.4 557.5 31.4 555.6 C31.5 553.7 31.5 551.9 31.6 550.0 C31.7 548.2 31.7 546.4 31.8 544.6 C31.9 542.8 31.9 541.1 32.0 539.3 C32.1 537.6 32.1 535.9 32.2 534.2 C32.3 532.5 32.4 530.8 32.4 529.1 C32.5 527.4 32.6 525.8 32.7 524.1 C32.8 522.5 32.9 520.9 33.0 519.3 C33.1 517.7 33.2 516.1 33.3 514.5 C33.4 512.9 33.5 511.3 33.6 509.8 C33.7 508.2 33.8 506.7 34.0 505.1 C34.1 503.6 34.2 502.1 34.4 500.5 C34.5 499.0 34.6 497.5 34.8 496.0 C34.9 494.5 35.1 493.0 35.2 491.6 C35.4 490.1 35.5 488.6 35.7 487.1 C35.9 485.7 36.1 484.2 36.2 482.8 C36.4 481.3 36.6 479.9 36.8 478.4 C37.0 477.0 37.2 475.6 37.4 474.2 C37.6 472.7 37.8 471.3 38.0 469.9 C38.3 468.5 38.5 467.1 38.7 465.7 C39.0 464.3 39.2 462.9 39.5 461.5 C39.7 460.1 40.0 458.7 40.2 457.4 C40.5 456.0 40.8 454.6 41.1 453.2 C41.3 451.9 41.6 450.5 41.9 449.1 C42.2 447.8 42.5 446.4 42.9 445.1 C43.2 443.7 43.5 442.4 43.8 441.0 C44.2 439.7 44.5 438.3 44.9 437.0 C45.2 435.7 45.6 434.3 46.0 433.0 C46.3 431.7 46.9 429.7 47.1 429.0 L85.1 439.2 C84.9 439.7 84.2 441.1 83.8 442.1 C83.4 443.1 82.9 444.0 82.5 445.0 C82.1 446.0 81.7 447.0 81.3 448.0 C80.8 449.0 80.4 450.0 80.0 451.0 C79.6 452.0 79.2 453.0 78.9 454.0 C78.5 455.0 78.1 456.1 77.7 457.1 C77.3 458.1 76.9 459.2 76.6 460.2 C76.2 461.3 75.8 462.4 75.5 463.4 C75.1 464.5 74.8 465.6 74.4 466.7 C74.1 467.7 73.7 468.8 73.4 469.9 C73.0 471.0 72.7 472.1 72.4 473.3 C72.0 474.4 71.7 475.5 71.4 476.7 C71.1 477.8 70.7 478.9 70.4 480.1 C70.1 481.3 69.8 482.4 69.5 483.6 C69.2 484.8 68.9 486.0 68.6 487.2 C68.3 488.4 68.0 489.6 67.7 490.8 C67.4 492.1 67.1 493.3 66.9 494.6 C66.6 495.8 66.3 497.1 66.0 498.3 C65.8 499.6 65.5 500.9 65.2 502.2 C65.0 503.5 64.7 504.8 64.5 506.2 C64.2 507.5 64.0 508.8 63.7 510.2 C63.5 511.6 63.2 512.9 63.0 514.3 C62.8 515.7 62.5 517.1 62.3 518.6 C62.1 520.0 61.8 521.4 61.6 522.9 C61.4 524.4 61.2 525.9 61.0 527.4 C60.8 528.9 60.5 530.4 60.3 531.9 C60.1 533.5 59.9 535.1 59.7 536.7 C59.5 538.2 59.3 539.9 59.1 541.5 C59.0 543.1 58.8 544.8 58.6 546.5 C58.4 548.2 58.2 549.9 58.0 551.7 C57.9 553.4 57.7 555.2 57.5 557.0 C57.3 558.8 57.2 560.6 57.0 562.5 C56.8 564.4 56.7 566.3 56.5 568.2 C56.3 570.2 56.2 572.2 56.0 574.2 C55.9 576.2 55.6 579.4 55.5 580.4 Z" fill="#b1c1ed" filter="url(#b6)"/>
<path d="M40.7 470.0 C40.8 469.1 41.1 466.4 41.3 464.6 C41.5 462.8 41.7 461.0 41.9 459.3 C42.1 457.5 42.4 455.7 42.6 453.9 C42.9 452.2 43.1 450.4 43.4 448.6 C43.7 446.9 44.0 445.1 44.3 443.3 C44.6 441.6 44.9 439.8 45.2 438.1 C45.6 436.3 45.9 434.6 46.3 432.8 C46.7 431.1 47.1 429.3 47.5 427.6 C48.0 425.9 48.6 424.2 49.1 422.5 C49.7 420.8 50.2 419.1 50.8 417.4 C51.4 415.7 51.9 414.0 52.5 412.3 C53.1 410.6 53.7 408.9 54.3 407.2 C54.9 405.5 55.6 403.8 56.2 402.1 C56.8 400.5 57.4 398.8 58.1 397.1 C58.7 395.4 59.3 393.6 60.0 391.9 C60.6 390.2 61.3 388.5 61.9 386.8 C62.6 385.0 63.2 383.3 63.9 381.5 C64.6 379.8 65.2 378.0 65.9 376.2 C66.6 374.4 67.2 372.6 67.9 370.8 C68.6 368.9 69.2 367.1 69.9 365.2 C70.6 363.3 71.3 361.4 72.0 359.5 C72.7 357.6 73.4 355.7 74.1 353.7 C74.9 351.7 75.6 349.7 76.4 347.7 C77.1 345.7 77.9 343.7 78.7 341.6 C79.5 339.5 80.3 337.4 81.1 335.3 C82.0 333.2 82.8 331.0 83.7 328.9 C84.6 326.7 85.5 324.5 86.5 322.3 C87.5 320.1 88.6 318.0 89.7 315.9 C90.8 313.8 92.0 311.7 93.2 309.6 C94.4 307.5 95.6 305.3 96.9 303.2 C98.2 301.1 99.5 298.9 100.9 296.8 C102.3 294.7 103.7 292.5 105.2 290.4 C106.6 288.2 108.2 286.1 109.7 284.0 C111.3 281.8 112.9 279.7 114.6 277.6 C116.2 275.5 118.9 272.3 119.7 271.3 L119.7 271.3 C118.9 272.5 116.6 276.3 115.1 278.8 C113.6 281.3 112.2 283.7 110.8 286.2 C109.5 288.7 108.2 291.2 106.9 293.6 C105.6 296.1 104.5 298.5 103.3 301.0 C102.2 303.4 101.1 305.8 100.0 308.2 C99.0 310.6 98.0 313.0 97.0 315.3 C96.0 317.7 95.1 320.0 94.2 322.3 C93.3 324.6 92.5 326.8 91.6 329.0 C90.7 331.1 89.8 333.2 89.0 335.2 C88.1 337.3 87.3 339.3 86.4 341.3 C85.6 343.3 84.9 345.3 84.1 347.3 C83.3 349.3 82.6 351.2 81.8 353.1 C81.1 355.0 80.4 356.9 79.7 358.8 C79.0 360.7 78.3 362.5 77.6 364.3 C76.9 366.2 76.2 368.0 75.6 369.7 C74.9 371.5 74.2 373.3 73.6 375.0 C72.9 376.8 72.2 378.5 71.6 380.2 C70.9 381.9 70.3 383.6 69.6 385.2 C69.0 386.9 68.3 388.6 67.7 390.2 C67.0 391.9 66.4 393.5 65.7 395.1 C65.1 396.8 64.5 398.4 63.8 400.0 C63.2 401.6 62.6 403.3 62.0 404.9 C61.3 406.5 60.7 408.1 60.1 409.7 C59.5 411.3 58.9 412.9 58.3 414.5 C57.7 416.2 57.1 417.8 56.5 419.4 C56.0 421.0 55.4 422.6 54.9 424.3 C54.3 425.9 53.8 427.6 53.2 429.2 C52.7 430.8 52.0 432.4 51.4 434.1 C50.8 435.7 50.2 437.3 49.6 439.0 C49.0 440.6 48.5 442.3 47.9 444.0 C47.4 445.6 46.8 447.3 46.3 449.0 C45.8 450.7 45.3 452.4 44.8 454.2 C44.3 455.9 43.8 457.6 43.3 459.4 C42.8 461.1 42.4 462.9 42.0 464.6 C41.5 466.4 40.9 469.1 40.7 470.0 Z" fill="#dfe5f8" filter="url(#b2)"/>
<path d="M151.4 349.7 C151.6 348.7 152.2 345.9 152.7 344.0 C153.2 342.1 153.7 340.2 154.3 338.2 C154.8 336.3 155.4 334.3 156.0 332.3 C156.7 330.4 157.3 328.4 158.0 326.4 C158.8 324.4 159.5 322.4 160.3 320.4 C161.1 318.5 162.0 316.5 162.9 314.5 C163.8 312.5 164.6 310.0 165.7 308.6 C166.8 307.2 168.1 306.8 169.4 305.9 C170.6 305.1 171.9 304.3 173.2 303.5 C174.5 302.7 175.8 302.0 177.2 301.3 C178.5 300.7 179.8 300.0 181.2 299.5 C182.6 298.9 184.0 298.4 185.4 297.9 C186.8 297.5 188.2 297.0 189.6 296.7 C191.0 296.3 192.5 296.0 193.9 295.7 C195.4 295.5 196.8 295.2 198.3 295.1 C199.7 294.9 201.2 294.8 202.6 294.8 C204.1 294.8 205.5 294.8 207.0 294.9 C208.4 295.0 209.9 295.1 211.3 295.3 C212.8 295.6 214.2 295.9 215.6 296.3 C217.1 296.7 218.5 297.1 219.9 297.6 C221.2 298.2 222.6 298.8 224.0 299.4 C225.3 300.0 226.7 300.7 228.0 301.4 C229.3 302.1 230.6 302.9 231.9 303.7 C233.2 304.4 234.5 305.2 235.7 306.0 C237.0 306.8 238.2 307.7 239.4 308.5 C240.6 309.4 241.8 310.2 243.0 311.1 C244.2 312.0 245.3 312.9 246.4 313.9 C247.6 314.9 248.8 315.6 249.8 316.9 C250.7 318.2 251.5 320.1 252.3 321.8 C253.1 323.4 253.9 325.1 254.6 326.7 C255.3 328.4 256.0 330.0 256.7 331.7 C257.3 333.4 257.9 335.1 258.5 336.8 C259.1 338.5 259.6 340.2 260.1 341.9 C260.6 343.6 261.1 345.3 261.5 346.9 C262.0 348.6 262.5 351.2 262.7 352.0 L262.7 352.0 C262.3 351.7 261.0 350.6 260.0 349.9 C259.1 349.3 258.2 348.6 257.3 348.0 C256.3 347.4 255.3 346.8 254.4 346.3 C253.4 345.7 252.4 345.2 251.3 344.7 C250.3 344.3 249.3 343.9 248.2 343.5 C247.1 343.2 246.0 342.9 244.9 342.6 C243.8 342.4 242.6 342.6 241.5 342.2 C240.5 341.8 239.6 340.9 238.6 340.4 C237.6 339.8 236.5 339.3 235.5 338.9 C234.4 338.4 233.4 338.1 232.3 337.7 C231.2 337.4 230.1 337.1 229.0 336.8 C227.9 336.5 226.8 336.3 225.7 336.1 C224.6 336.0 223.4 335.8 222.3 335.7 C221.2 335.6 220.0 335.6 218.9 335.5 C217.8 335.5 216.6 335.5 215.5 335.5 C214.4 335.6 213.2 335.6 212.1 335.7 C211.0 335.8 209.8 336.0 208.7 336.1 C207.6 336.3 206.4 336.5 205.3 336.7 C204.2 337.0 203.1 337.2 202.0 337.5 C200.9 337.8 199.8 338.1 198.7 338.4 C197.6 338.8 196.5 339.1 195.4 339.5 C194.4 339.9 193.3 340.3 192.3 340.7 C191.2 341.2 190.2 341.6 189.1 342.1 C188.1 342.6 187.1 343.1 186.1 343.7 C185.1 344.2 184.1 344.8 183.1 345.4 C182.1 346.0 181.2 346.6 180.2 347.2 C179.3 347.8 178.4 348.5 177.4 349.2 C176.5 349.8 175.8 351.0 174.8 351.2 C173.8 351.5 172.6 350.7 171.5 350.4 C170.3 350.2 169.2 350.0 168.1 349.8 C167.0 349.7 165.9 349.5 164.8 349.4 C163.7 349.3 162.5 349.3 161.4 349.2 C160.3 349.2 159.2 349.2 158.1 349.2 C157.0 349.2 155.8 349.3 154.7 349.4 C153.6 349.4 151.9 349.6 151.4 349.7 Z" fill="#d3dbf5" filter="url(#b3)"/>
<path d="M113.4 392.0 C113.3 391.4 113.1 389.5 112.9 388.2 C112.8 387.0 112.7 385.7 112.5 384.3 C112.4 383.0 112.3 381.7 112.2 380.3 C112.1 378.9 111.9 377.5 111.8 376.1 C111.7 374.7 111.7 373.3 111.6 371.8 C111.5 370.3 111.4 368.8 111.4 367.3 C111.3 365.8 111.2 364.2 111.2 362.7 C111.2 361.1 111.2 359.5 111.1 357.9 C111.1 356.3 111.1 354.6 111.2 352.9 C111.2 351.3 111.0 349.2 111.3 347.9 C111.5 346.5 112.3 345.7 112.8 344.6 C113.4 343.5 113.9 342.4 114.5 341.3 C115.1 340.2 115.6 339.1 116.2 338.0 C116.8 336.9 117.4 335.8 118.0 334.6 C118.6 333.5 119.3 332.4 119.9 331.3 C120.5 330.1 121.2 329.0 121.9 327.8 C122.5 326.7 123.2 325.6 123.9 324.4 C124.6 323.3 125.3 322.1 126.0 321.0 C126.8 319.8 127.5 318.7 128.3 317.6 C129.0 316.4 129.8 315.3 130.6 314.1 C131.4 313.0 132.2 311.8 133.0 310.7 C133.9 309.5 134.7 308.4 135.6 307.2 C136.4 306.1 137.3 305.0 138.2 303.8 C139.1 302.7 140.0 301.6 141.0 300.5 C141.9 299.3 142.7 297.7 143.8 297.1 C144.9 296.5 146.4 296.8 147.7 296.7 C149.0 296.6 150.2 296.5 151.5 296.4 C152.8 296.4 154.1 296.4 155.4 296.4 C156.7 296.4 158.0 296.5 159.3 296.6 C160.6 296.7 161.9 296.8 163.2 297.0 C164.5 297.2 165.8 297.4 167.1 297.7 C168.4 298.0 169.7 298.3 171.0 298.6 C172.3 299.0 173.6 299.4 174.9 299.8 C176.1 300.3 177.4 300.7 178.7 301.3 C179.9 301.8 181.8 302.6 182.4 302.9 L182.4 302.9 C181.9 303.7 180.4 306.0 179.5 307.6 C178.5 309.1 177.6 310.7 176.7 312.4 C175.8 314.0 175.0 315.6 174.2 317.3 C173.4 319.0 172.6 320.7 171.8 322.4 C171.1 324.1 170.4 325.8 169.7 327.5 C169.0 329.2 168.4 330.9 167.8 332.6 C167.2 334.4 166.6 336.1 166.1 337.8 C165.5 339.5 165.0 341.3 164.5 343.0 C164.1 344.7 163.6 346.4 163.2 348.1 C162.8 349.8 162.5 351.9 162.0 353.1 C161.5 354.3 160.7 354.6 160.1 355.4 C159.4 356.1 158.8 356.9 158.2 357.6 C157.6 358.4 157.0 359.1 156.4 359.9 C155.8 360.6 155.2 361.4 154.7 362.2 C154.1 362.9 153.5 363.7 153.0 364.4 C152.5 365.2 151.9 366.0 151.4 366.7 C150.9 367.5 150.4 368.2 149.9 369.0 C149.3 369.7 148.9 370.5 148.4 371.2 C147.9 372.0 147.4 372.7 146.9 373.5 C146.5 374.2 146.0 375.0 145.6 375.7 C145.1 376.4 144.7 377.2 144.2 377.9 C143.8 378.6 143.4 379.4 142.9 380.1 C142.5 380.8 142.1 381.5 141.7 382.2 C141.3 382.9 140.9 383.7 140.5 384.4 C140.1 385.1 139.9 386.1 139.3 386.5 C138.7 386.8 137.6 386.6 136.7 386.7 C135.9 386.7 135.0 386.8 134.2 386.9 C133.3 387.0 132.4 387.2 131.6 387.3 C130.7 387.4 129.9 387.6 129.0 387.8 C128.1 387.9 127.3 388.1 126.4 388.3 C125.6 388.5 124.7 388.7 123.8 388.9 C123.0 389.1 122.1 389.3 121.2 389.6 C120.4 389.8 119.5 390.0 118.6 390.3 C117.7 390.6 116.9 390.8 116.0 391.1 C115.1 391.4 113.8 391.9 113.4 392.0 Z" fill="#a6b7ea" filter="url(#b3)"/>
<path d="M71.7 568.0 C71.9 566.7 72.2 562.5 72.5 559.9 C72.8 557.2 73.1 554.7 73.3 552.2 C73.6 549.7 73.9 547.2 74.3 544.8 C74.6 542.5 74.9 540.1 75.2 537.9 C75.6 535.6 75.9 533.4 76.3 531.3 C76.6 529.1 77.0 527.0 77.4 524.9 C77.7 522.9 78.1 520.8 78.5 518.9 C78.9 516.9 79.3 515.0 79.7 513.1 C80.1 511.2 80.5 509.3 81.0 507.5 C81.4 505.7 81.9 503.9 82.4 502.1 C82.9 500.4 83.4 498.6 83.9 496.9 C84.5 495.2 85.0 493.6 85.5 492.0 C86.1 490.3 86.6 488.7 87.1 487.2 C87.7 485.6 88.3 484.1 88.8 482.5 C89.4 481.0 90.0 479.5 90.5 478.1 C91.1 476.6 91.7 475.2 92.3 473.8 C92.9 472.4 93.5 471.0 94.1 469.6 C94.7 468.3 95.3 466.9 96.0 465.6 C96.6 464.3 97.2 463.0 97.9 461.7 C98.5 460.5 99.1 459.2 99.8 458.0 C100.4 456.8 101.1 455.6 101.8 454.4 C102.4 453.2 103.1 452.0 103.8 450.9 C104.4 449.7 105.1 448.6 105.8 447.4 C106.5 446.3 107.2 445.2 107.9 444.2 C108.6 443.1 109.3 442.0 110.0 441.0 C110.7 439.9 111.4 438.9 112.2 437.9 C112.9 436.9 113.7 435.9 114.5 434.9 C115.3 434.0 116.1 433.0 116.9 432.1 C117.7 431.1 118.4 430.2 119.2 429.3 C120.0 428.4 120.7 427.5 121.5 426.6 C122.2 425.7 123.0 424.8 123.7 423.9 C124.5 423.0 125.2 422.1 125.9 421.2 C126.6 420.3 127.3 419.4 128.0 418.5 C128.7 417.6 129.4 416.7 130.1 415.8 C130.8 414.9 131.8 413.5 132.1 413.0 L132.1 413.0 C131.8 413.5 131.0 415.1 130.5 416.1 C130.0 417.1 129.4 418.1 128.9 419.1 C128.3 420.1 127.7 421.1 127.2 422.0 C126.6 423.0 126.0 424.0 125.4 424.9 C124.8 425.9 124.2 426.8 123.6 427.8 C123.0 428.7 122.4 429.6 121.7 430.6 C121.1 431.5 120.5 432.5 119.9 433.4 C119.2 434.4 118.6 435.4 117.9 436.3 C117.3 437.3 116.7 438.3 116.0 439.3 C115.3 440.2 114.5 441.2 113.8 442.2 C113.1 443.2 112.4 444.2 111.7 445.2 C111.0 446.2 110.3 447.3 109.6 448.4 C108.9 449.4 108.2 450.5 107.5 451.6 C106.8 452.7 106.2 453.8 105.5 455.0 C104.8 456.1 104.1 457.3 103.5 458.4 C102.8 459.6 102.1 460.8 101.5 462.0 C100.8 463.3 100.2 464.5 99.6 465.8 C98.9 467.0 98.3 468.3 97.7 469.6 C97.0 471.0 96.4 472.3 95.8 473.7 C95.2 475.0 94.6 476.4 94.0 477.8 C93.4 479.2 92.8 480.7 92.2 482.2 C91.6 483.6 91.0 485.1 90.5 486.7 C89.9 488.2 89.3 489.7 88.8 491.3 C88.2 492.9 87.7 494.5 87.1 496.2 C86.6 497.9 86.1 499.5 85.5 501.3 C85.0 503.0 84.5 504.7 84.0 506.6 C83.5 508.4 82.9 510.2 82.3 512.1 C81.8 514.0 81.3 516.0 80.8 518.0 C80.2 520.0 79.7 522.0 79.2 524.1 C78.8 526.2 78.3 528.3 77.8 530.5 C77.3 532.7 76.9 534.9 76.4 537.2 C76.0 539.5 75.6 541.9 75.1 544.3 C74.7 546.7 74.3 549.2 73.9 551.8 C73.5 554.3 73.2 557.0 72.8 559.7 C72.4 562.4 71.9 566.6 71.7 568.0 Z" fill="#e6ebfa" filter="url(#b1)"/>
<path d="M225.2 229.9 C226.9 231.1 232.1 234.8 235.4 237.5 C238.6 240.3 241.7 243.3 244.7 246.4 C247.7 249.5 250.5 252.8 253.2 256.0 C255.9 259.2 258.5 262.5 261.0 265.6 C263.5 268.8 265.9 271.8 268.2 274.9 C270.5 277.9 272.7 281.0 274.8 283.9 C277.0 286.9 279.0 289.9 281.0 292.8 C282.9 295.8 284.8 298.7 286.6 301.7 C288.3 304.6 290.0 307.5 291.6 310.5 C293.2 313.4 294.7 316.3 296.1 319.2 C297.5 322.2 298.8 325.1 300.1 328.0 C301.3 330.9 302.5 333.7 303.6 336.6 C304.7 339.4 305.7 342.3 306.6 345.0 C307.6 347.8 308.5 350.6 309.3 353.3 C310.2 356.0 310.9 358.7 311.7 361.3 C312.4 363.9 313.1 366.5 313.8 369.1 C314.4 371.7 315.0 374.2 315.6 376.6 C316.2 379.1 316.8 381.6 317.3 384.0 C317.8 386.4 318.3 388.7 318.8 391.0 C319.3 393.4 319.7 395.7 320.2 397.9 C320.6 400.2 321.0 402.4 321.4 404.6 C321.8 406.8 322.2 409.0 322.6 411.1 C322.9 413.3 323.3 415.4 323.6 417.5 C323.9 419.6 324.3 421.7 324.6 423.8 C324.9 425.9 325.2 427.9 325.5 430.0 C325.7 432.0 326.0 434.0 326.3 436.1 C326.5 438.1 326.7 440.1 327.0 442.1 C327.2 444.1 327.4 446.1 327.6 448.1 C327.8 450.1 328.0 452.1 328.2 454.1 C328.3 456.0 328.5 458.0 328.6 460.0 C328.8 462.0 328.9 464.0 329.0 466.0 C329.2 468.0 329.4 470.0 329.4 472.0 C329.3 473.9 329.4 476.0 328.8 477.9 C328.2 479.9 326.9 481.8 326.0 483.6 C325.0 485.5 323.5 488.2 323.0 489.1 L323.0 489.1 C322.5 488.1 321.0 485.0 320.0 483.0 C319.0 481.0 317.6 479.1 316.9 477.2 C316.2 475.3 316.1 473.5 315.9 471.7 C315.7 469.9 315.7 468.2 315.6 466.4 C315.5 464.6 315.4 462.8 315.3 461.0 C315.1 459.3 315.0 457.5 314.8 455.7 C314.7 453.9 314.5 452.2 314.3 450.4 C314.2 448.6 314.0 446.8 313.8 445.0 C313.5 443.2 313.3 441.4 313.1 439.6 C312.9 437.8 312.6 436.0 312.4 434.1 C312.1 432.3 311.8 430.5 311.6 428.6 C311.3 426.8 311.0 424.9 310.7 423.0 C310.4 421.1 310.0 419.2 309.7 417.3 C309.4 415.4 309.0 413.5 308.6 411.5 C308.3 409.5 307.9 407.5 307.5 405.5 C307.1 403.5 306.6 401.5 306.2 399.4 C305.8 397.3 305.3 395.2 304.8 393.1 C304.3 391.0 303.8 388.8 303.3 386.6 C302.7 384.4 302.2 382.2 301.6 379.9 C301.0 377.7 300.3 375.4 299.7 373.0 C299.1 370.6 298.6 368.0 298.0 365.4 C297.4 362.8 296.9 360.0 296.2 357.2 C295.6 354.5 294.9 351.7 294.1 348.8 C293.3 345.9 292.5 343.0 291.6 340.1 C290.7 337.1 289.7 334.1 288.6 331.1 C287.5 328.0 286.3 325.0 285.0 321.9 C283.8 318.8 282.4 315.7 280.9 312.6 C279.5 309.5 277.9 306.4 276.2 303.3 C274.5 300.1 272.8 297.0 270.9 293.8 C269.0 290.6 267.0 287.4 264.9 284.2 C262.8 281.0 260.6 277.7 258.3 274.4 C256.1 271.0 253.6 267.7 251.1 264.2 C248.7 260.6 246.1 256.9 243.4 253.0 C240.7 249.0 238.0 244.2 234.9 240.4 C231.9 236.5 226.9 231.6 225.2 229.9 Z" fill="#c3cff2" filter="url(#b2)"/>
<path d="M207.9 244.8 C209.7 244.5 215.2 243.4 218.9 243.3 C222.6 243.2 226.5 242.5 229.9 244.3 C233.2 246.0 236.3 250.5 239.3 253.9 C242.2 257.3 244.9 261.3 247.6 264.9 C250.3 268.5 252.8 271.9 255.2 275.3 C257.6 278.7 259.9 282.0 262.1 285.3 C264.3 288.6 266.4 291.9 268.4 295.1 C270.4 298.4 272.2 301.6 274.0 304.9 C275.7 308.1 277.4 311.3 278.9 314.5 C280.4 317.7 281.8 320.9 283.1 324.0 C284.4 327.2 285.6 330.4 286.7 333.5 C287.9 336.6 288.9 339.7 289.8 342.7 C290.7 345.7 291.6 348.7 292.3 351.6 C293.1 354.6 293.8 357.4 294.5 360.3 C295.1 363.1 295.6 365.9 296.2 368.6 C296.8 371.2 297.4 373.8 298.0 376.2 C298.6 378.7 299.3 380.9 299.9 383.2 C300.5 385.5 301.1 387.8 301.6 390.0 C302.2 392.2 302.7 394.4 303.2 396.6 C303.7 398.7 304.1 400.8 304.6 402.9 C305.0 405.0 305.4 407.1 305.8 409.1 C306.2 411.2 306.6 413.2 307.0 415.2 C307.3 417.1 307.7 419.1 308.0 421.1 C308.4 423.0 308.7 424.9 309.0 426.8 C309.3 428.7 309.6 430.6 309.9 432.5 C310.1 434.4 310.4 436.3 310.6 438.1 C310.9 440.0 311.1 441.8 311.3 443.7 C311.6 445.5 311.8 447.3 312.0 449.2 C312.1 451.0 312.3 452.8 312.5 454.6 C312.7 456.5 312.8 458.3 313.0 460.1 C313.1 461.9 313.2 463.7 313.3 465.6 C313.5 467.4 313.6 469.2 313.6 471.0 C313.6 472.9 313.9 474.7 313.3 476.5 C312.8 478.3 311.3 480.0 310.2 481.7 C309.2 483.4 307.6 485.8 307.1 486.6 L307.1 486.6 C306.5 485.7 304.9 482.8 303.8 481.0 C302.7 479.2 301.2 477.5 300.5 475.8 C299.8 474.1 299.9 472.5 299.8 470.9 C299.6 469.3 299.6 467.7 299.5 466.1 C299.4 464.5 299.3 462.9 299.1 461.3 C299.0 459.7 298.9 458.1 298.7 456.5 C298.6 454.9 298.4 453.3 298.3 451.7 C298.1 450.1 297.9 448.5 297.7 446.9 C297.5 445.3 297.3 443.7 297.1 442.0 C296.8 440.4 296.6 438.8 296.4 437.1 C296.1 435.5 295.9 433.8 295.6 432.1 C295.3 430.5 295.0 428.8 294.7 427.1 C294.4 425.4 294.1 423.7 293.7 421.9 C293.4 420.2 293.0 418.5 292.7 416.7 C292.3 414.9 291.9 413.1 291.5 411.3 C291.1 409.5 290.7 407.6 290.2 405.8 C289.8 403.9 289.3 402.0 288.8 400.1 C288.3 398.2 287.8 396.2 287.3 394.2 C286.7 392.2 286.1 390.3 285.5 388.2 C285.0 386.0 284.5 383.8 284.0 381.4 C283.6 379.1 283.2 376.5 282.7 374.0 C282.2 371.4 281.6 368.8 281.0 366.2 C280.4 363.5 279.7 360.8 279.0 358.0 C278.2 355.3 277.4 352.4 276.5 349.6 C275.6 346.7 274.7 343.7 273.6 340.8 C272.5 337.9 271.3 334.9 270.1 331.9 C268.8 328.9 267.4 325.9 265.9 323.0 C264.3 320.0 262.7 317.0 261.0 314.1 C259.2 311.2 257.3 308.3 255.4 305.5 C253.4 302.6 251.3 299.9 249.0 297.0 C246.8 294.2 244.5 291.5 242.1 288.6 C239.7 285.8 237.1 283.0 234.5 280.0 C231.9 276.9 229.2 274.2 226.4 270.3 C223.6 266.3 220.9 260.5 217.8 256.3 C214.7 252.0 209.5 246.7 207.9 244.8 Z" fill="#eceefa" filter="url(#b2)"/>
<path d="M255.6 345.0 C256.3 345.6 258.3 347.4 259.6 348.6 C260.8 349.9 262.0 351.2 263.2 352.5 C264.4 353.8 265.5 355.1 266.7 356.5 C267.8 357.8 268.8 359.1 269.9 360.5 C271.0 361.8 272.0 363.2 273.0 364.5 C274.0 365.9 275.1 367.1 276.0 368.5 C276.9 370.0 277.7 371.4 278.4 373.0 C279.1 374.6 279.6 376.4 280.2 378.1 C280.8 379.7 281.3 381.4 281.8 383.0 C282.4 384.6 282.9 386.2 283.3 387.8 C283.8 389.3 284.3 390.9 284.7 392.4 C285.2 393.9 285.6 395.5 286.0 396.9 C286.4 398.4 286.8 399.9 287.2 401.4 C287.6 402.8 287.9 404.3 288.3 405.7 C288.6 407.1 288.9 408.5 289.3 409.9 C289.6 411.3 289.9 412.7 290.2 414.1 C290.5 415.4 290.8 416.8 291.1 418.1 C291.4 419.5 291.6 420.8 291.9 422.1 C292.2 423.4 292.4 424.7 292.6 426.0 C292.9 427.3 293.1 428.6 293.3 429.9 C293.6 431.2 293.8 432.5 294.0 433.7 C294.2 435.0 294.4 436.2 294.6 437.5 C294.8 438.7 295.0 440.0 295.1 441.2 C295.3 442.5 295.5 443.7 295.6 444.9 C295.8 446.1 295.9 447.4 296.1 448.6 C296.2 449.8 296.4 451.0 296.5 452.3 C296.6 453.5 296.8 454.7 296.9 455.9 C297.0 457.1 297.2 458.3 297.2 459.5 C297.2 460.8 297.1 462.0 296.9 463.2 C296.7 464.4 296.3 465.7 296.0 466.9 C295.8 468.1 295.5 469.3 295.1 470.4 C294.8 471.6 294.5 472.8 294.2 474.0 C293.9 475.1 293.6 476.3 293.2 477.4 C292.9 478.6 292.5 479.7 292.2 480.8 C291.8 481.9 291.3 483.6 291.1 484.1 L291.1 484.1 C290.9 483.5 290.4 481.7 290.0 480.5 C289.6 479.4 289.2 478.2 288.8 477.1 C288.4 475.9 288.0 474.8 287.6 473.7 C287.2 472.6 286.8 471.5 286.4 470.4 C286.0 469.3 285.5 468.3 285.1 467.2 C284.7 466.2 284.2 465.2 283.8 464.1 C283.5 463.1 283.2 462.1 283.0 461.1 C282.8 460.0 282.8 459.0 282.7 458.0 C282.6 456.9 282.5 455.9 282.4 454.9 C282.2 453.8 282.1 452.8 282.0 451.7 C281.9 450.7 281.7 449.6 281.6 448.6 C281.5 447.6 281.3 446.5 281.2 445.4 C281.0 444.4 280.8 443.3 280.7 442.3 C280.5 441.2 280.3 440.1 280.1 439.1 C279.9 438.0 279.8 436.9 279.6 435.8 C279.3 434.7 279.1 433.7 278.9 432.6 C278.7 431.5 278.5 430.3 278.2 429.2 C278.0 428.1 277.8 427.0 277.5 425.9 C277.3 424.7 277.0 423.6 276.7 422.4 C276.4 421.3 276.2 420.1 275.9 419.0 C275.6 417.8 275.3 416.6 274.9 415.4 C274.6 414.2 274.3 413.0 274.0 411.8 C273.6 410.6 273.3 409.3 272.9 408.1 C272.5 406.8 272.1 405.6 271.8 404.3 C271.4 403.0 271.0 401.7 270.5 400.4 C270.1 399.1 269.7 397.7 269.2 396.4 C268.8 395.0 268.3 393.7 267.8 392.3 C267.3 390.9 266.7 389.6 266.3 388.0 C265.8 386.5 265.5 384.8 265.2 383.0 C264.8 381.2 264.6 379.1 264.3 377.2 C263.9 375.2 263.6 373.1 263.2 371.0 C262.8 369.0 262.3 366.8 261.8 364.7 C261.3 362.5 260.8 360.4 260.2 358.2 C259.5 356.0 258.9 353.8 258.1 351.6 C257.4 349.4 256.1 346.1 255.6 345.0 Z" fill="#cdd8f3" filter="url(#b2)"/>
<path d="M266.1 288.3 C267.0 289.6 269.5 293.6 271.1 296.3 C272.6 299.0 274.1 301.6 275.5 304.3 C276.9 306.9 278.3 309.6 279.6 312.2 C280.8 314.8 282.0 317.5 283.1 320.1 C284.3 322.7 285.3 325.3 286.3 327.8 C287.3 330.4 288.2 333.0 289.1 335.5 C289.9 338.0 290.7 340.6 291.4 343.0 C292.2 345.5 292.9 348.0 293.5 350.4 C294.2 352.8 294.7 355.2 295.3 357.5 C295.9 359.8 296.4 362.1 296.8 364.4 C297.3 366.7 297.6 369.0 298.1 371.1 C298.6 373.2 299.2 375.1 299.8 377.0 C300.3 379.0 300.8 380.9 301.3 382.8 C301.8 384.7 302.3 386.5 302.7 388.4 C303.2 390.2 303.6 392.0 304.0 393.8 C304.4 395.6 304.8 397.4 305.2 399.1 C305.6 400.9 305.9 402.6 306.3 404.3 C306.6 406.0 307.0 407.7 307.3 409.4 C307.6 411.1 307.9 412.7 308.2 414.4 C308.5 416.0 308.8 417.6 309.1 419.2 C309.4 420.8 309.7 422.4 309.9 424.0 C310.2 425.6 310.4 427.2 310.7 428.7 C310.9 430.3 311.1 431.8 311.3 433.4 C311.6 434.9 311.8 436.5 312.0 438.0 C312.2 439.5 312.4 441.0 312.6 442.6 C312.7 444.1 312.9 445.6 313.1 447.1 C313.3 448.6 313.4 450.1 313.6 451.6 C313.7 453.1 313.8 454.6 314.0 456.1 C314.1 457.6 314.2 459.1 314.3 460.6 C314.5 462.1 314.6 463.6 314.7 465.1 C314.7 466.6 314.8 468.1 314.9 469.6 C315.0 471.1 315.1 472.6 315.1 474.1 C315.2 475.7 315.2 477.2 315.3 478.7 C315.3 480.2 315.3 481.7 315.4 483.3 C315.4 484.8 315.4 487.1 315.4 487.9" fill="none" stroke="#9fb0e6" stroke-width="0.8" filter="url(#b05)"/>
<path d="M241.1 343.7 C241.8 344.3 244.1 345.9 245.4 347.2 C246.8 348.6 248.1 350.0 249.3 351.6 C250.6 353.1 251.7 354.8 252.8 356.5 C253.8 358.1 254.8 359.9 255.8 361.7 C256.7 363.4 257.6 365.2 258.4 367.0 C259.2 368.8 260.0 370.6 260.7 372.3 C261.4 374.0 262.1 375.8 262.8 377.5 C263.5 379.1 264.1 380.8 264.7 382.4 C265.4 384.0 266.0 385.6 266.5 387.2 C267.1 388.8 267.7 390.3 268.2 391.8 C268.7 393.3 269.2 394.8 269.7 396.3 C270.2 397.7 270.7 399.2 271.1 400.6 C271.6 402.0 272.0 403.4 272.4 404.8 C272.9 406.2 273.3 407.6 273.6 408.9 C274.0 410.3 274.4 411.6 274.8 412.9 C275.1 414.2 275.5 415.5 275.8 416.8 C276.1 418.1 276.5 419.4 276.8 420.6 C277.1 421.9 277.4 423.1 277.6 424.4 C277.9 425.6 278.2 426.8 278.5 428.1 C278.7 429.3 279.0 430.5 279.2 431.7 C279.5 432.9 279.7 434.1 279.9 435.2 C280.1 436.4 280.3 437.6 280.5 438.8 C280.7 439.9 280.9 441.1 281.1 442.2 C281.3 443.4 281.5 444.5 281.6 445.7 C281.8 446.8 282.0 448.0 282.1 449.1 C282.3 450.2 282.4 451.4 282.5 452.5 C282.7 453.6 282.8 454.8 282.9 455.9 C283.0 457.0 283.2 458.1 283.3 459.3 C283.4 460.4 283.5 461.5 283.5 462.6 C283.6 463.8 283.7 464.9 283.8 466.0 C283.9 467.1 283.9 468.3 284.0 469.4 C284.1 470.5 284.1 471.6 284.2 472.8 C284.2 473.9 284.2 475.1 284.3 476.2 C284.3 477.3 284.3 478.5 284.4 479.6 C284.4 480.8 284.4 482.5 284.4 483.1" fill="none" stroke="#a9b8e8" stroke-width="0.9" filter="url(#b05)"/>
<path d="M141.1 272.9 C141.8 272.8 143.9 272.4 145.3 272.2 C146.7 272.1 148.0 271.9 149.4 271.8 C150.7 271.7 152.1 271.6 153.5 271.6 C154.8 271.6 156.2 271.6 157.5 271.6 C158.9 271.7 160.2 271.8 161.6 271.9 C162.9 272.0 164.3 272.1 165.6 272.3 C166.9 272.4 168.3 272.5 169.6 272.7 C170.9 272.9 172.2 273.1 173.6 273.3 C174.9 273.6 176.2 273.9 177.5 274.2 C178.8 274.5 180.0 274.9 181.3 275.3 C182.6 275.7 183.8 276.1 185.1 276.5 C186.3 277.0 187.6 277.4 188.8 277.9 C190.1 278.4 191.3 278.9 192.5 279.4 C193.7 280.0 194.9 280.6 196.1 281.2 C197.3 281.8 198.4 282.4 199.5 283.1 C200.7 283.8 201.8 284.5 202.9 285.3 C204.0 286.0 205.0 286.8 206.1 287.6 C207.2 288.4 208.3 289.2 209.3 290.0 C210.4 290.9 211.4 291.7 212.4 292.6 C213.5 293.5 214.5 294.5 215.4 295.5 C216.4 296.5 217.3 297.5 218.2 298.5 C219.1 299.6 220.0 300.7 220.9 301.9 C221.7 303.0 222.9 304.9 223.3 305.5 L228.6 302.6 C228.3 301.9 227.4 299.8 226.8 298.4 C226.1 296.9 225.4 295.5 224.6 294.2 C223.8 292.8 223.0 291.4 222.2 290.1 C221.3 288.8 220.4 287.5 219.5 286.3 C218.5 285.0 217.6 283.8 216.5 282.6 C215.5 281.4 214.4 280.3 213.3 279.2 C212.2 278.1 211.0 277.1 209.8 276.1 C208.6 275.1 207.3 274.2 206.0 273.3 C204.8 272.4 203.5 271.5 202.1 270.7 C200.8 269.8 199.5 269.1 198.1 268.3 C196.7 267.5 195.3 266.8 193.9 266.2 C192.5 265.5 191.0 264.9 189.6 264.3 C188.1 263.8 186.6 263.3 185.1 262.8 C183.6 262.4 182.1 262.0 180.6 261.6 C179.0 261.2 177.5 260.9 176.0 260.6 C174.4 260.3 172.9 260.0 171.3 259.8 C169.7 259.6 168.2 259.4 166.6 259.3 C165.0 259.2 163.5 259.2 161.9 259.3 C160.3 259.3 158.7 259.4 157.2 259.6 C155.6 259.7 154.0 259.9 152.5 260.1 C150.9 260.3 149.4 260.6 147.8 260.9 C146.3 261.2 144.7 261.5 143.2 261.9 C141.7 262.3 139.6 263.0 138.9 263.2 Z" fill="#c0caf0" filter="url(#b3)"/>
<path d="M124.4 277.9 C124.9 277.0 126.1 274.4 127.0 272.7 C127.9 271.0 128.9 269.4 129.9 267.9 C130.9 266.4 132.0 264.9 133.2 263.4 C134.4 262.0 135.6 260.7 136.9 259.4 C138.2 258.1 139.5 256.9 140.9 255.8 C142.2 254.6 143.7 253.5 145.1 252.5 C146.5 251.4 147.8 250.4 149.2 249.3 C150.6 248.3 151.9 247.2 153.3 246.2 C154.7 245.2 156.1 244.3 157.6 243.4 C159.0 242.5 160.5 241.8 162.0 240.9 C163.4 240.0 164.8 239.0 166.2 238.1 C167.7 237.2 169.1 236.4 170.7 235.6 C172.2 234.8 173.7 234.2 175.3 233.5 C176.8 232.7 178.3 231.9 179.9 231.1 C181.5 230.3 183.1 229.6 184.8 229.0 C186.4 228.3 188.1 227.7 189.9 227.3 C191.6 226.8 193.4 226.5 195.2 226.3 C197.0 226.1 198.8 226.1 200.6 226.1 C202.4 226.2 204.2 226.3 206.1 226.5 C207.9 226.7 209.7 227.0 211.6 227.4 C213.4 227.9 215.2 228.5 217.0 229.2 C218.8 229.8 220.6 230.6 222.4 231.5 C224.2 232.4 226.8 234.0 227.7 234.5 L228.8 232.8 C227.9 232.2 225.4 230.3 223.6 229.2 C221.9 228.1 220.1 227.1 218.3 226.2 C216.5 225.3 214.6 224.5 212.8 223.8 C210.9 223.0 209.0 222.3 207.1 221.7 C205.2 221.1 203.3 220.6 201.3 220.1 C199.4 219.7 197.4 219.3 195.4 219.0 C193.4 218.7 191.4 218.5 189.4 218.2 C187.3 218.0 185.3 217.7 183.2 217.6 C181.1 217.5 179.0 217.4 176.9 217.5 C174.8 217.6 172.6 217.7 170.5 218.1 C168.4 218.5 166.4 219.1 164.4 219.8 C162.3 220.4 160.3 221.1 158.3 221.9 C156.3 222.7 154.3 223.5 152.4 224.6 C150.6 225.6 148.8 226.9 147.1 228.2 C145.4 229.5 143.7 230.9 142.1 232.3 C140.5 233.7 138.9 235.1 137.5 236.7 C136.0 238.3 134.7 240.0 133.5 241.8 C132.2 243.5 131.2 245.4 130.1 247.3 C129.1 249.2 128.2 251.1 127.3 253.0 C126.4 254.9 125.6 256.9 124.9 258.8 C124.2 260.8 123.5 262.7 122.9 264.7 C122.4 266.7 121.9 268.7 121.5 270.7 C121.1 272.7 120.8 275.7 120.6 276.7 Z" fill="#f0ab74" filter="url(#b2)"/>
<path d="M139.0 254.4 C139.3 254.2 140.2 253.6 140.7 253.1 C141.3 252.7 141.9 252.3 142.4 251.9 C143.0 251.4 143.6 251.0 144.2 250.6 C144.8 250.2 145.4 249.8 146.0 249.4 C146.6 249.0 147.2 248.6 147.8 248.2 C148.4 247.8 149.0 247.5 149.5 247.0 C150.1 246.6 150.6 246.1 151.1 245.7 C151.6 245.2 152.1 244.8 152.7 244.4 C153.2 244.0 153.7 243.6 154.3 243.2 C154.8 242.8 155.4 242.4 155.9 242.1 C156.4 241.7 157.0 241.4 157.5 241.0 C158.1 240.7 158.5 240.3 159.0 239.9 C159.5 239.5 159.9 239.0 160.4 238.6 C160.9 238.2 161.4 237.8 161.8 237.4 C162.3 237.0 162.8 236.7 163.3 236.3 C163.8 236.0 164.3 235.6 164.9 235.3 C165.4 235.0 165.9 234.7 166.4 234.4 C167.0 234.1 167.5 233.9 168.1 233.6 C168.6 233.3 169.2 233.1 169.8 232.9 C170.3 232.6 170.9 232.4 171.5 232.3 C172.2 232.1 172.8 231.9 173.4 231.8 C174.1 231.7 174.7 231.6 175.4 231.5 C176.1 231.5 177.3 231.5 177.6 231.4 L178.4 226.5 C178.1 226.4 176.9 225.9 176.1 225.7 C175.3 225.5 174.5 225.2 173.7 225.1 C172.8 224.9 172.0 224.8 171.2 224.7 C170.3 224.6 169.5 224.5 168.7 224.5 C167.8 224.4 167.0 224.4 166.1 224.4 C165.3 224.5 164.4 224.5 163.6 224.7 C162.8 224.8 161.9 224.9 161.1 225.1 C160.3 225.3 159.5 225.5 158.6 225.7 C157.8 226.0 157.0 226.2 156.2 226.5 C155.4 226.8 154.6 227.1 153.8 227.4 C153.0 227.8 152.2 228.1 151.5 228.5 C150.8 228.9 150.0 229.4 149.4 229.9 C148.7 230.4 148.1 231.0 147.5 231.5 C146.9 232.1 146.3 232.7 145.7 233.3 C145.1 233.9 144.5 234.5 143.9 235.1 C143.4 235.7 142.8 236.3 142.3 236.9 C141.8 237.5 141.2 238.1 140.7 238.8 C140.3 239.4 139.9 240.1 139.5 240.9 C139.1 241.6 138.8 242.3 138.4 243.0 C138.1 243.8 137.7 244.5 137.4 245.2 C137.1 245.9 136.8 246.6 136.5 247.3 C136.2 248.1 136.0 248.8 135.7 249.5 C135.4 250.2 135.1 251.2 135.0 251.5 Z" fill="#e88f4b" filter="url(#b2)"/>
<path d="M172.1 239.0 C172.4 239.1 173.4 239.3 174.0 239.4 C174.6 239.6 175.2 239.8 175.7 240.0 C176.3 240.2 176.9 240.4 177.4 240.7 C177.9 240.9 178.5 241.1 179.0 241.4 C179.5 241.7 180.0 241.9 180.5 242.2 C181.0 242.5 181.5 242.8 181.9 243.1 C182.4 243.4 182.8 243.8 183.3 244.1 C183.8 244.4 184.2 244.7 184.7 245.0 C185.2 245.2 185.7 245.4 186.2 245.6 C186.7 245.8 187.1 246.0 187.6 246.3 C188.1 246.5 188.6 246.8 189.1 247.0 C189.6 247.3 190.0 247.6 190.5 247.9 C191.0 248.2 191.5 248.5 191.9 248.8 C192.4 249.1 192.9 249.4 193.3 249.7 C193.8 250.1 194.2 250.4 194.7 250.7 C195.2 251.0 195.7 251.3 196.3 251.5 C196.8 251.8 197.4 252.0 197.9 252.3 C198.5 252.5 199.1 252.8 199.6 253.1 C200.2 253.4 200.7 253.6 201.3 253.9 C201.8 254.2 202.4 254.5 202.9 254.9 C203.4 255.2 204.0 255.5 204.5 255.8 C205.1 256.2 205.6 256.5 206.1 256.8 C206.6 257.2 207.4 257.7 207.7 257.9 L212.3 254.1 C212.2 253.8 211.7 252.9 211.5 252.2 C211.2 251.6 210.8 251.0 210.5 250.4 C210.2 249.8 209.8 249.2 209.5 248.5 C209.1 247.9 208.8 247.3 208.4 246.7 C208.0 246.1 207.6 245.5 207.2 244.9 C206.9 244.3 206.4 243.6 206.0 243.0 C205.6 242.4 205.2 241.8 204.7 241.3 C204.2 240.7 203.8 240.1 203.2 239.6 C202.7 239.1 202.0 238.7 201.4 238.3 C200.9 237.9 200.2 237.5 199.6 237.1 C199.0 236.7 198.4 236.3 197.8 235.9 C197.1 235.5 196.5 235.1 195.8 234.8 C195.2 234.4 194.5 234.1 193.9 233.7 C193.2 233.4 192.5 233.1 191.8 232.8 C191.2 232.5 190.5 232.1 189.8 231.9 C189.0 231.7 188.3 231.6 187.5 231.5 C186.8 231.4 186.0 231.4 185.2 231.3 C184.5 231.3 183.7 231.3 182.9 231.3 C182.2 231.3 181.4 231.3 180.6 231.4 C179.9 231.4 179.1 231.5 178.4 231.6 C177.6 231.7 176.9 231.8 176.2 231.9 C175.4 232.1 174.7 232.2 174.0 232.4 C173.2 232.6 172.2 232.9 171.9 233.0 Z" fill="#f6f6fc" filter="url(#b3)"/>
<path d="M200.0 227.0 C200.2 227.3 200.9 228.3 201.4 228.9 C201.8 229.6 202.3 230.3 202.7 230.9 C203.1 231.6 203.5 232.3 203.9 232.9 C204.3 233.6 204.7 234.3 205.0 235.0 C205.4 235.7 205.8 236.4 206.1 237.1 C206.5 237.8 206.8 238.5 207.2 239.2 C207.5 239.9 207.8 240.6 208.2 241.3 C208.5 242.1 208.8 242.8 209.1 243.5 C209.4 244.2 209.7 244.9 210.0 245.6 C210.4 246.4 210.7 247.1 211.0 247.8 C211.3 248.5 211.6 249.3 211.9 250.0 C212.2 250.7 212.5 251.4 212.8 252.2 C213.1 252.9 213.4 253.6 213.7 254.3 C214.0 255.1 214.3 255.8 214.7 256.5 C215.0 257.2 215.3 257.9 215.6 258.6 C216.0 259.4 216.3 260.1 216.6 260.8 C217.0 261.5 217.3 262.2 217.7 262.9 C218.1 263.6 218.4 264.3 218.8 265.0 C219.2 265.6 219.8 266.7 220.0 267.0" fill="none" stroke="#8790bd" stroke-width="1.2" filter="url(#b1)"/>
<path d="M160.1 233.7 C160.2 234.8 160.4 238.1 160.9 240.2 C161.5 242.4 162.2 244.5 163.2 246.4 C164.2 248.3 165.5 250.1 166.9 251.7 C168.3 253.2 170.0 254.5 171.6 255.8 C173.2 257.0 174.8 258.1 176.5 259.2 C178.2 260.2 179.9 261.1 181.6 262.0 C183.3 262.9 185.0 263.8 186.6 264.7 C188.3 265.6 189.9 266.4 191.5 267.4 C193.0 268.3 194.6 269.3 196.0 270.3 C197.5 271.3 199.0 272.3 200.4 273.4 C201.7 274.4 203.0 275.6 204.2 276.8 C205.4 277.9 206.5 279.2 207.6 280.4 C208.7 281.6 209.7 282.9 210.8 284.0 C211.9 285.2 213.1 286.3 214.3 287.5 C215.4 288.7 216.4 290.0 217.6 291.3 C218.8 292.5 220.1 293.7 221.4 295.0 C222.7 296.2 224.1 297.5 225.4 298.8 C226.7 300.1 228.0 301.4 229.3 302.8 C230.6 304.2 231.8 305.7 233.0 307.1 C234.2 308.6 235.5 310.0 236.7 311.5 C237.9 312.9 239.0 314.4 240.2 315.9 C241.4 317.3 242.5 318.8 243.7 320.2 C244.9 321.6 246.6 323.7 247.2 324.4 L248.9 323.3 C248.5 322.5 247.5 320.0 246.7 318.4 C246.0 316.7 245.3 315.0 244.6 313.3 C244.0 311.5 243.3 309.8 242.6 308.0 C241.9 306.2 241.3 304.4 240.6 302.6 C239.9 300.8 239.2 299.0 238.5 297.2 C237.8 295.4 237.1 293.5 236.4 291.6 C235.6 289.8 234.9 287.9 234.0 286.1 C233.2 284.2 232.2 282.4 231.1 280.7 C230.0 279.0 228.7 277.5 227.4 275.9 C226.1 274.3 224.8 272.7 223.3 271.3 C221.8 269.9 220.1 268.7 218.4 267.5 C216.7 266.4 214.9 265.4 213.1 264.4 C211.3 263.5 209.5 262.6 207.8 261.7 C206.0 260.8 204.3 259.9 202.5 259.0 C200.8 258.2 199.0 257.4 197.3 256.6 C195.6 255.7 193.9 254.9 192.2 254.0 C190.6 253.2 188.9 252.3 187.3 251.5 C185.7 250.6 184.1 249.8 182.6 248.9 C181.2 248.1 179.7 247.3 178.4 246.4 C177.0 245.5 175.9 244.6 174.7 243.7 C173.5 242.7 172.4 241.9 171.4 240.8 C170.3 239.7 169.2 238.7 168.3 237.3 C167.4 235.8 166.3 232.9 165.8 232.1 Z" fill="#e99b5a" filter="url(#b15)"/>
<path d="M223.2 288.6 C223.4 288.9 223.8 289.7 224.1 290.2 C224.4 290.8 224.7 291.3 225.0 291.9 C225.3 292.4 225.6 292.9 225.9 293.5 C226.2 294.0 226.5 294.6 226.8 295.1 C227.1 295.7 227.4 296.2 227.6 296.8 C227.9 297.3 228.2 297.9 228.5 298.4 C228.8 299.0 229.0 299.5 229.3 300.1 C229.6 300.6 229.9 301.1 230.2 301.7 C230.5 302.2 230.9 302.6 231.3 303.1 C231.7 303.6 232.0 304.1 232.4 304.6 C232.8 305.1 233.1 305.6 233.5 306.1 C233.8 306.6 234.2 307.1 234.6 307.6 C234.9 308.1 235.3 308.6 235.6 309.1 C236.0 309.6 236.3 310.1 236.7 310.6 C237.1 311.1 237.4 311.6 237.8 312.1 C238.1 312.6 238.5 313.1 238.9 313.6 C239.3 314.1 239.6 314.6 240.0 315.1 C240.4 315.6 240.8 316.0 241.2 316.5 C241.5 317.0 241.9 317.5 242.3 318.0 C242.7 318.5 243.1 319.0 243.4 319.5 C243.8 320.0 244.2 320.5 244.6 321.0 C245.0 321.4 245.3 321.9 245.7 322.4 C246.1 322.9 246.7 323.7 246.9 323.9 L248.1 323.1 C248.0 322.8 247.6 322.0 247.3 321.4 C247.1 320.9 246.8 320.3 246.5 319.8 C246.2 319.2 246.0 318.6 245.7 318.1 C245.4 317.5 245.2 317.0 244.9 316.4 C244.6 315.8 244.4 315.3 244.1 314.7 C243.8 314.2 243.6 313.6 243.3 313.0 C243.0 312.5 242.8 311.9 242.5 311.4 C242.2 310.8 241.9 310.2 241.6 309.7 C241.3 309.1 241.0 308.6 240.7 308.1 C240.4 307.5 240.1 307.0 239.8 306.4 C239.5 305.9 239.2 305.4 238.9 304.8 C238.6 304.3 238.3 303.7 238.0 303.2 C237.7 302.7 237.4 302.1 237.0 301.6 C236.7 301.0 236.4 300.5 236.1 300.0 C235.8 299.4 235.5 298.9 235.1 298.4 C234.8 297.8 234.4 297.4 234.0 296.9 C233.6 296.4 233.1 295.9 232.7 295.5 C232.3 295.0 231.8 294.6 231.4 294.1 C231.0 293.6 230.5 293.2 230.1 292.7 C229.7 292.3 229.2 291.8 228.8 291.4 C228.4 290.9 227.9 290.5 227.5 290.0 C227.0 289.6 226.6 289.1 226.1 288.7 C225.7 288.3 225.0 287.6 224.8 287.4 Z" fill="#dd8c4a" filter="url(#b1)"/>
<path d="M238.0 299.9 C238.1 300.0 238.4 300.2 238.7 300.5 C239.0 300.8 239.4 301.4 239.7 302.0 C240.1 302.6 240.6 303.3 241.0 304.1 C241.5 304.9 242.0 305.8 242.5 306.8 C243.0 307.7 243.5 308.7 244.0 309.7 C244.5 310.7 245.0 311.8 245.4 312.8 C245.9 313.8 246.3 314.9 246.7 315.8 C247.1 316.8 247.5 317.7 247.8 318.5 C248.1 319.4 248.3 320.2 248.5 320.8 C248.7 321.4 248.8 322.0 248.8 322.4 C248.8 322.8 248.7 323.0 248.5 323.1 C248.3 323.2 248.0 323.0 247.7 322.8 C247.3 322.6 246.8 322.1 246.3 321.6 C245.8 321.1 245.2 320.5 244.6 319.8 C244.1 319.1 243.4 318.3 242.9 317.5 C242.3 316.7 241.6 315.9 241.1 315.1 C240.6 314.3 240.0 313.4 239.6 312.7 C239.1 311.9 238.7 311.2 238.5 310.5 C238.2 309.9 238.0 309.2 237.9 308.9" fill="none" stroke="#8a5a3a" stroke-width="0.9" filter="url(#b05)"/>
<path d="M112.6 306.8 C113.3 306.4 115.3 305.0 116.7 304.1 C118.0 303.2 119.4 302.4 120.8 301.5 C122.2 300.7 123.6 299.8 125.1 299.0 C126.5 298.2 128.0 297.4 129.4 296.6 C130.9 295.8 132.4 295.0 133.9 294.3 C135.4 293.5 136.9 292.8 138.4 292.1 C139.9 291.4 141.4 290.7 143.0 290.0 C144.5 289.4 146.1 288.8 147.6 288.2 C149.2 287.6 150.8 287.0 152.3 286.5 C153.9 286.0 155.5 285.4 157.0 285.0 C158.6 284.5 160.2 284.0 161.8 283.6 C163.4 283.2 164.9 282.9 166.5 282.5 C168.1 282.2 169.7 281.9 171.3 281.7 C172.9 281.5 174.5 281.3 176.1 281.1 C177.7 281.0 179.3 280.9 180.8 280.8 C182.4 280.8 184.0 280.8 185.6 280.8 C187.2 280.9 188.8 281.0 190.3 281.2 C191.9 281.3 193.5 281.6 195.0 281.8 C196.6 282.1 198.2 282.4 199.7 282.8 C201.3 283.1 202.9 283.5 204.4 284.0 C206.0 284.5 207.5 285.0 209.1 285.7 C210.7 286.3 212.2 287.0 213.7 287.7 C215.3 288.5 217.6 289.8 218.4 290.3 L219.9 287.7 C219.1 287.2 216.9 285.7 215.3 284.8 C213.7 283.9 212.2 283.1 210.6 282.3 C209.0 281.6 207.4 280.9 205.7 280.3 C204.1 279.6 202.5 279.1 200.8 278.6 C199.2 278.1 197.5 277.7 195.8 277.4 C194.2 277.1 192.5 276.9 190.8 276.7 C189.1 276.5 187.4 276.4 185.8 276.4 C184.1 276.3 182.4 276.3 180.7 276.3 C179.0 276.4 177.3 276.5 175.7 276.7 C174.0 276.8 172.3 277.0 170.6 277.3 C169.0 277.6 167.3 277.9 165.6 278.3 C164.0 278.6 162.3 279.0 160.7 279.5 C159.0 279.9 157.4 280.4 155.8 280.9 C154.1 281.4 152.5 282.0 150.9 282.6 C149.3 283.2 147.7 283.9 146.2 284.6 C144.6 285.3 143.0 286.0 141.5 286.7 C139.9 287.5 138.4 288.2 136.9 289.0 C135.4 289.8 133.9 290.7 132.4 291.5 C130.9 292.4 129.5 293.2 128.0 294.1 C126.6 295.0 125.2 296.0 123.8 296.9 C122.4 297.8 121.0 298.8 119.6 299.7 C118.3 300.7 116.9 301.7 115.6 302.6 C114.3 303.6 112.4 305.1 111.8 305.6 Z" fill="#ecaa72" filter="url(#b1)"/>
<path d="M114.7 311.8 C115.6 311.1 118.2 309.0 120.1 307.7 C122.0 306.4 123.9 305.1 125.9 303.9 C127.9 302.8 129.9 301.7 132.0 300.6 C134.0 299.6 136.2 298.6 138.3 297.7 C140.4 296.8 142.6 295.9 144.9 295.1 C147.1 294.4 149.3 293.7 151.6 293.1 C153.8 292.5 156.1 291.9 158.4 291.5 C160.7 291.0 163.0 290.6 165.4 290.3 C167.7 290.0 170.0 289.8 172.3 289.6 C174.6 289.5 177.0 289.5 179.3 289.5 C181.6 289.5 183.9 289.7 186.1 289.9 C188.4 290.1 190.7 290.4 192.9 290.8 C195.1 291.2 197.3 291.7 199.5 292.3 C201.7 292.9 203.8 293.6 205.9 294.4 C208.0 295.1 210.0 296.0 212.0 297.0 C214.0 298.0 216.0 299.1 217.9 300.2 C219.8 301.4 221.6 302.7 223.4 304.0 C225.2 305.4 226.9 306.9 228.5 308.4 C230.1 310.0 231.7 311.6 233.1 313.4 C234.6 315.1 236.0 316.9 237.3 318.8 C238.6 320.8 239.8 322.8 240.9 324.9 C242.0 327.0 243.0 329.2 243.9 331.5 C244.8 333.8 245.9 337.5 246.3 338.7 L247.7 338.2 C247.4 337.0 246.5 333.2 245.6 330.8 C244.8 328.5 243.9 326.1 242.8 323.9 C241.8 321.7 240.6 319.6 239.3 317.5 C238.0 315.5 236.6 313.5 235.2 311.7 C233.7 309.8 232.1 308.1 230.4 306.4 C228.8 304.8 227.0 303.2 225.2 301.8 C223.4 300.3 221.5 298.9 219.5 297.7 C217.5 296.4 215.5 295.3 213.4 294.2 C211.3 293.2 209.2 292.2 207.0 291.4 C204.8 290.6 202.6 289.8 200.3 289.2 C198.1 288.6 195.8 288.1 193.5 287.7 C191.2 287.2 188.8 286.9 186.4 286.7 C184.1 286.5 181.7 286.3 179.3 286.3 C176.9 286.3 174.5 286.3 172.1 286.5 C169.7 286.7 167.3 286.9 164.9 287.2 C162.6 287.6 160.2 288.0 157.8 288.5 C155.5 289.0 153.1 289.6 150.8 290.3 C148.5 290.9 146.2 291.7 143.9 292.5 C141.7 293.4 139.4 294.3 137.3 295.3 C135.1 296.3 132.9 297.3 130.8 298.5 C128.8 299.6 126.7 300.9 124.8 302.2 C122.8 303.4 120.9 304.8 119.0 306.2 C117.2 307.6 114.6 309.9 113.7 310.7 Z" fill="#f4f5fc" filter="url(#b1)"/>
<path d="M143.9 299.0 C144.1 299.0 144.7 298.9 145.1 298.9 C145.6 298.9 146.0 298.8 146.4 298.8 C146.8 298.8 147.3 298.8 147.7 298.8 C148.1 298.8 148.5 298.8 148.9 298.7 C149.4 298.7 149.8 298.7 150.2 298.7 C150.6 298.7 151.0 298.8 151.5 298.8 C151.9 298.8 152.3 298.8 152.7 298.8 C153.1 298.8 153.5 298.8 154.0 298.9 C154.4 298.9 154.8 298.9 155.2 299.0 C155.6 299.0 156.0 299.0 156.4 299.1 C156.8 299.1 157.2 299.2 157.7 299.2 C158.1 299.2 158.5 299.2 158.9 299.2 C159.3 299.2 159.7 299.2 160.1 299.2 C160.5 299.2 161.0 299.2 161.4 299.2 C161.8 299.2 162.2 299.2 162.6 299.2 C163.0 299.2 163.4 299.2 163.9 299.2 C164.3 299.2 164.7 299.2 165.1 299.2 C165.5 299.2 165.9 299.3 166.4 299.3 C166.8 299.3 167.2 299.4 167.6 299.4 C168.0 299.4 168.5 299.5 168.9 299.5 C169.3 299.5 169.7 299.6 170.1 299.6 C170.6 299.7 171.0 299.7 171.4 299.8 C171.8 299.8 172.5 299.9 172.7 300.0 L173.1 298.0 C172.9 298.0 172.3 297.8 171.9 297.6 C171.5 297.5 171.0 297.4 170.6 297.2 C170.2 297.1 169.8 297.0 169.4 296.9 C168.9 296.8 168.5 296.7 168.1 296.6 C167.7 296.4 167.2 296.3 166.8 296.2 C166.4 296.1 166.0 296.0 165.5 296.0 C165.1 295.9 164.7 295.8 164.3 295.7 C163.8 295.6 163.4 295.5 163.0 295.4 C162.5 295.4 162.1 295.3 161.7 295.2 C161.2 295.1 160.8 295.1 160.4 295.0 C159.9 295.0 159.5 294.9 159.1 294.8 C158.6 294.8 158.2 294.8 157.8 294.8 C157.3 294.8 156.9 294.9 156.5 294.9 C156.0 294.9 155.6 295.0 155.2 295.0 C154.7 295.0 154.3 295.1 153.8 295.1 C153.4 295.2 153.0 295.2 152.5 295.3 C152.1 295.3 151.7 295.4 151.2 295.5 C150.8 295.5 150.4 295.6 150.0 295.7 C149.5 295.7 149.1 295.8 148.7 295.9 C148.2 296.0 147.8 296.1 147.4 296.1 C146.9 296.2 146.5 296.3 146.1 296.4 C145.7 296.5 145.2 296.6 144.8 296.7 C144.4 296.8 143.8 297.0 143.5 297.0 Z" fill="#efb183" filter="url(#b1)"/>
<path d="M166.0 301.5 C165.6 301.9 164.3 303.0 163.5 303.7 C162.7 304.5 161.8 305.2 161.0 306.0 C160.2 306.8 159.4 307.5 158.6 308.3 C157.8 309.1 157.1 309.9 156.3 310.7 C155.5 311.5 154.7 312.3 154.0 313.2 C153.2 314.0 152.5 314.8 151.7 315.6 C151.0 316.5 150.3 317.3 149.6 318.2 C148.8 319.0 148.1 319.9 147.4 320.8 C146.7 321.6 146.0 322.5 145.3 323.4 C144.7 324.3 144.0 325.2 143.3 326.1 C142.7 327.0 142.0 327.9 141.4 328.8 C140.7 329.7 140.1 330.6 139.5 331.6 C138.8 332.5 138.2 333.4 137.6 334.4 C137.0 335.3 136.4 336.3 135.9 337.2 C135.3 338.2 134.7 339.1 134.2 340.1 C133.6 341.1 133.0 342.0 132.5 343.0 C132.0 344.0 131.5 345.0 130.9 346.0 C130.4 347.0 129.9 348.0 129.4 349.0 C128.9 350.0 128.2 351.5 128.0 352.0" fill="none" stroke="#ecae7c" stroke-width="2" filter="url(#b1)"/>
<path d="M176.1 296.1 C174.9 296.9 171.4 299.5 169.1 301.2 C166.7 302.9 164.4 304.7 162.1 306.5 C159.8 308.3 157.5 310.1 155.2 312.0 C153.0 313.9 150.8 315.8 148.7 317.8 C146.6 319.8 144.5 321.8 142.5 323.9 C140.5 326.0 138.6 328.1 136.8 330.3 C135.0 332.5 133.3 334.8 131.8 337.2 C130.2 339.6 128.7 342.0 127.3 344.5 C125.9 347.0 124.7 349.6 123.4 352.2 C122.1 354.8 121.0 357.4 119.8 360.1 C118.6 362.7 117.5 365.4 116.3 368.1 C115.2 370.8 114.1 373.5 112.9 376.2 C111.7 378.9 110.4 381.5 109.2 384.2 C108.0 386.9 106.8 389.5 105.6 392.2 C104.5 394.8 103.3 397.5 102.3 400.2 C101.3 402.9 100.4 405.5 99.7 408.3 C98.9 411.0 98.3 413.8 97.9 416.6 C97.5 419.4 97.3 422.2 97.4 425.1 C97.5 428.1 98.2 432.6 98.4 434.0" fill="none" stroke="#ecbd9c" stroke-width="1.3" filter="url(#b05)"/>
<path d="M176.1 296.1 C174.9 296.9 171.4 299.5 169.1 301.2 C166.7 302.9 164.4 304.7 162.1 306.5 C159.8 308.3 157.5 310.1 155.2 312.0 C153.0 313.9 150.8 315.8 148.7 317.8 C146.6 319.8 144.5 321.8 142.5 323.9 C140.5 326.0 138.6 328.1 136.8 330.3 C135.0 332.5 133.3 334.8 131.8 337.2 C130.2 339.6 128.7 342.0 127.3 344.5 C125.9 347.0 124.7 349.6 123.4 352.2 C122.1 354.8 121.0 357.4 119.8 360.1 C118.6 362.7 117.5 365.4 116.3 368.1 C115.2 370.8 114.1 373.5 112.9 376.2 C111.7 378.9 110.4 381.5 109.2 384.2 C108.0 386.9 106.8 389.5 105.6 392.2 C104.5 394.8 103.3 397.5 102.3 400.2 C101.3 402.9 100.4 405.5 99.7 408.3 C98.9 411.0 98.3 413.8 97.9 416.6 C97.5 419.4 97.3 422.2 97.4 425.1 C97.5 428.1 98.2 432.6 98.4 434.0" fill="none" stroke="#f6e3d3" stroke-width="0.5"/>
<path d="M98.6 434.8 C99.3 434.7 101.5 435.1 102.9 434.7 C104.2 434.3 105.5 433.4 106.7 432.4 C108.0 431.4 109.1 430.0 110.2 428.6 C111.4 427.1 112.4 425.5 113.5 423.9 C114.6 422.3 115.6 420.6 116.6 419.0 C117.6 417.4 118.6 415.9 119.7 414.4 C120.7 412.8 121.7 411.3 122.7 409.8 C123.7 408.3 124.6 406.9 125.6 405.4 C126.6 403.9 127.6 402.5 128.6 401.1 C129.7 399.6 130.7 398.2 131.7 396.8 C132.7 395.3 133.7 393.9 134.8 392.5 C135.8 391.1 136.9 389.7 137.9 388.3 C139.0 386.9 140.1 385.5 141.2 384.1 C142.2 382.8 143.3 381.4 144.4 380.0 C145.5 378.6 146.7 377.3 147.8 375.9 C148.9 374.6 150.1 373.2 151.2 371.9 C152.4 370.5 153.6 369.2 154.7 367.9 C155.9 366.5 157.1 365.2 158.3 363.9 C159.5 362.6 161.4 360.6 162.0 360.0" fill="none" stroke="#e6c3ae" stroke-width="1" filter="url(#b05)"/>
</g>
<path d="M70.0 600.0 C70.1 597.9 70.5 591.8 70.8 587.7 C71.1 583.5 71.4 579.4 71.8 575.2 C72.2 571.1 72.6 566.9 73.1 562.8 C73.6 558.6 74.1 554.4 74.7 550.3 C75.3 546.1 75.9 542.0 76.6 537.8 C77.3 533.7 78.1 529.6 79.0 525.4 C79.8 521.3 80.8 517.2 81.8 513.2 C82.8 509.1 83.9 505.1 85.1 501.1 C86.3 497.1 87.6 493.1 89.0 489.2 C90.4 485.3 91.9 481.4 93.5 477.6 C95.1 473.8 96.8 470.0 98.7 466.3 C100.5 462.6 102.5 458.9 104.6 455.3 C106.7 451.8 108.9 448.2 111.2 444.8 C113.6 441.3 116.1 438.0 118.6 434.7 C121.1 431.3 123.8 428.0 126.2 424.6 C128.7 421.2 131.0 417.8 133.2 414.3 C135.4 410.8 137.4 407.2 139.5 403.6 C141.6 400.0 143.6 396.3 145.8 392.7 C147.9 389.1 150.0 385.5 152.3 382.0 C154.6 378.6 156.9 375.1 159.5 371.8 C162.0 368.5 164.6 365.3 167.5 362.4 C170.3 359.4 173.3 356.6 176.6 354.1 C179.8 351.5 183.3 349.2 187.0 347.2 C190.8 345.2 194.9 343.4 199.0 342.1 C203.1 340.7 207.6 339.6 211.8 339.1 C216.1 338.6 220.5 338.4 224.5 338.9 C228.6 339.3 232.6 340.2 236.1 341.8 C239.6 343.4 242.8 345.6 245.6 348.3 C248.4 351.0 250.7 354.4 252.9 357.8 C255.2 361.3 257.0 365.3 258.8 369.2 C260.6 373.1 262.2 377.3 263.8 381.3 C265.3 385.3 266.8 389.3 268.2 393.3 C269.5 397.3 270.8 401.3 272.1 405.3 C273.3 409.2 274.4 413.2 275.4 417.2 C276.4 421.2 277.4 425.2 278.2 429.2 C279.1 433.2 279.8 437.2 280.5 441.2 C281.2 445.3 281.7 449.4 282.2 453.5 C282.7 457.6 283.1 461.7 283.3 465.9 C283.6 470.0 283.8 474.5 283.9 478.5 C284.0 482.6 283.9 488.2 283.9 490.2 L380.0 620.0 L20.0 620.0 Z" fill="#d4e2f5"/>
</g>
<line x1="230.5" y1="114" x2="230.5" y2="483" stroke="#ffffff" stroke-width="0.9" opacity="0.6"/>
<line x1="48" y1="303.7" x2="340" y2="298.1" stroke="#ffffff" stroke-width="0.9" opacity="0.6"/>
<line x1="231.6" y1="113.5" x2="231.6" y2="483" stroke="#1c1c20" stroke-width="1.25"/>
<line x1="47" y1="302.6" x2="340" y2="297" stroke="#1a1a1e" stroke-width="1.6"/>
<polyline points="46.6,51 339.9,150.5" fill="none" stroke="#332d2b" stroke-width="1"/>
<polyline points="339.9,150.5 339.9,443.5" fill="none" stroke="#8f9bb0" stroke-width="0.8"/>
<polyline points="49.5,549.5 340,443.7" fill="none" stroke="#22222a" stroke-width="1.5"/>
<polygon points="37.9,56.4 46.4,50.2 47.6,51.2 50.4,550.4 48.5,550.6 46.5,547.2 43.8,548.2 39.3,545" fill="#333335"/>
<line x1="46.2" y1="52" x2="49.0" y2="548.5" stroke="#1c1c1e" stroke-width="1.5"/>
<line x1="41.6" y1="75" x2="44.4" y2="540" stroke="#48484a" stroke-width="0.9" stroke-dasharray="14 18 30 9" opacity="0.8"/>
<polyline points="42.9,158.6 95.7,263.7 374,263.7" fill="none" stroke="#d3000f" stroke-width="1.9"/>
<circle cx="42.5" cy="158.4" r="4.75" fill="#fff" stroke="#d3000f" stroke-width="1.1"/>
<circle cx="518.6" cy="254.4" r="145" fill="#7a8db5" opacity="0.35" filter="url(#sh)"/>
<circle cx="518.6" cy="253.4" r="143.3" fill="#edebe6"/>
<g clip-path="url(#circ)">
<rect x="397" y="100" width="70.4" height="310" fill="#3c3c3e"/>
<rect x="397" y="100" width="21.6" height="310" fill="#39393b"/>
<rect x="467.2" y="100" width="45.6" height="235.8" fill="#313133"/>
<line x1="418.6" y1="100" x2="418.6" y2="410" stroke="#4a4a4c" stroke-width="0.8"/>
<line x1="436.8" y1="100" x2="436.8" y2="410" stroke="#252527" stroke-width="1.2"/>
<line x1="437" y1="140" x2="437" y2="157" stroke="#b9b9b9" stroke-width="1.4"/>
<line x1="437" y1="182" x2="437" y2="200" stroke="#b9b9b9" stroke-width="1.4"/>
<line x1="437" y1="306" x2="437" y2="311" stroke="#a9a9a9" stroke-width="1.4"/>
<line x1="437" y1="336" x2="437" y2="353" stroke="#b9b9b9" stroke-width="1.4"/>
<circle cx="406.0" cy="181.0" r="2.6" fill="none" stroke="#2a2a2c" stroke-width="0.7"/>
<circle cx="428.8" cy="206.0" r="2.6" fill="none" stroke="#2a2a2c" stroke-width="0.7"/>
<circle cx="406.0" cy="229.0" r="2.6" fill="none" stroke="#2a2a2c" stroke-width="0.7"/>
<circle cx="406.0" cy="229.0" r="0.9" fill="#222224"/>
<circle cx="406.0" cy="275.7" r="2.6" fill="none" stroke="#2a2a2c" stroke-width="0.7"/>
<circle cx="428.8" cy="275.7" r="2.6" fill="none" stroke="#2a2a2c" stroke-width="0.7"/>
<circle cx="406.4" cy="322.9" r="2.6" fill="none" stroke="#2a2a2c" stroke-width="0.7"/>
<circle cx="428.9" cy="346.8" r="2.6" fill="none" stroke="#2a2a2c" stroke-width="0.7"/>
<line x1="468.2" y1="100" x2="468.2" y2="336" stroke="#29292b" stroke-width="1"/>
<polyline points="469.2,132.9 496.6,138.6 496.6,222.1 469.2,227" fill="none" stroke="#1a1a1c" stroke-width="0.9"/>
<rect x="474" y="201.35" width="32.5" height="3.9" rx="1.95" fill="#f6f6f4"/>
<rect x="474" y="208.00" width="32.5" height="3.9" rx="1.95" fill="#f6f6f4"/>
<rect x="474" y="214.65" width="32.5" height="3.9" rx="1.95" fill="#f6f6f4"/>
<rect x="474" y="221.30" width="32.5" height="3.9" rx="1.95" fill="#f6f6f4"/>
<rect x="474" y="227.95" width="32.5" height="3.9" rx="1.95" fill="#f6f6f4"/>
<rect x="474" y="234.60" width="32.5" height="3.9" rx="1.95" fill="#f6f6f4"/>
<rect x="474" y="241.25" width="32.5" height="3.9" rx="1.95" fill="#f6f6f4"/>
<rect x="474" y="247.90" width="32.5" height="3.9" rx="1.95" fill="#f6f6f4"/>
<rect x="474" y="254.55" width="32.5" height="3.9" rx="1.95" fill="#f6f6f4"/>
<rect x="474" y="261.20" width="32.5" height="3.9" rx="1.95" fill="#f6f6f4"/>
<rect x="474" y="267.85" width="32.5" height="3.9" rx="1.95" fill="#f6f6f4"/>
<rect x="474" y="274.50" width="32.5" height="3.9" rx="1.95" fill="#f6f6f4"/>
<rect x="474" y="281.15" width="32.5" height="3.9" rx="1.95" fill="#f6f6f4"/>
<rect x="474" y="287.80" width="32.5" height="3.9" rx="1.95" fill="#f6f6f4"/>
<rect x="474" y="294.45" width="32.5" height="3.9" rx="1.95" fill="#f6f6f4"/>
<rect x="474" y="301.10" width="32.5" height="3.9" rx="1.95" fill="#f6f6f4"/>
<rect x="474" y="307.75" width="32.5" height="3.9" rx="1.95" fill="#f6f6f4"/>
<rect x="474" y="314.40" width="32.5" height="3.9" rx="1.95" fill="#f6f6f4"/>
<polyline points="496.6,200 496.6,222.1 469.2,227" fill="none" stroke="#1a1a1c" stroke-width="0.9"/>
<rect x="473" y="337" width="23" height="3" fill="#2a2a2c"/>
<rect x="478" y="339" width="5" height="4" fill="#1d1d1f"/>
</g>
<circle cx="518.6" cy="253.4" r="143.3" fill="none" stroke="#d3000f" stroke-width="4.2"/>
<text transform="translate(582.0 232.4) scale(1.090 1)" x="0" y="0" font-family="Liberation Sans, Arial, sans-serif" font-weight="700" font-size="19" fill="#111" text-anchor="middle" textLength="84.4" lengthAdjust="spacing">Effective</text>
<text transform="translate(582.0 259.0) scale(1.090 1)" x="0" y="0" font-family="Liberation Sans, Arial, sans-serif" font-weight="700" font-size="19" fill="#111" text-anchor="middle" textLength="45.1" lengthAdjust="spacing">Heat</text>
<text transform="translate(581.5 283.6) scale(1.090 1)" x="0" y="0" font-family="Liberation Sans, Arial, sans-serif" font-weight="700" font-size="19" fill="#111" text-anchor="middle" textLength="105.5" lengthAdjust="spacing">Dissipation</text>
</svg>
</body></html>
